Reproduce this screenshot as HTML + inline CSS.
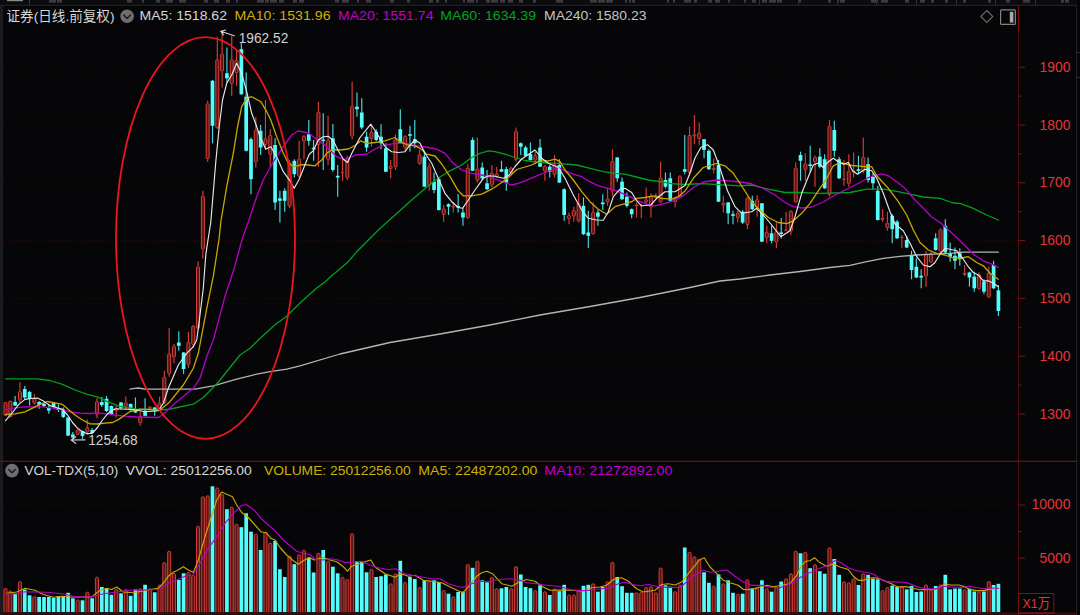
<!DOCTYPE html>
<html lang="zh-CN"><head><meta charset="utf-8"><title>证券(日线.前复权)</title>
<style>html,body{margin:0;padding:0;background:#060608;overflow:hidden}body{width:1080px;height:615px}svg{position:absolute;left:0;top:0}</style>
</head><body>
<svg width="1080" height="615" viewBox="0 0 1080 615" style="display:block;background:#060608" font-family="'Liberation Sans','Noto Sans CJK SC',sans-serif">
<rect x="0" y="0" width="1080" height="615" fill="#060608"/>
<g id="topstrip">
<rect x="0" y="0" width="1077" height="5" fill="#0c0c0f"/>
<line x1="0" y1="5.3" x2="1077" y2="5.3" stroke="#26262a" stroke-width="1"/>
<rect x="7" y="0" width="16" height="1.2" fill="#8a8a8a"/>
<line x1="29.5" y1="0" x2="29.5" y2="5" stroke="#3a3a3e" stroke-width="1"/>
<rect x="49" y="0" width="7" height="2.6" fill="#4c4c50" opacity="0.75"/>
<rect x="57" y="0" width="5" height="2.6" fill="#4c4c50" opacity="0.75"/>
<rect x="127" y="0" width="5" height="2.6" fill="#4c4c50" opacity="0.75"/>
<rect x="142" y="0" width="2" height="2.6" fill="#4c4c50" opacity="0.75"/>
<rect x="156" y="0" width="4" height="2.6" fill="#4c4c50" opacity="0.75"/>
<rect x="166" y="0" width="7" height="2.6" fill="#4c4c50" opacity="0.75"/>
<rect x="179" y="0" width="7" height="2.6" fill="#4c4c50" opacity="0.75"/>
<rect x="204" y="0" width="4" height="2.6" fill="#4c4c50" opacity="0.75"/>
<rect x="214" y="0" width="5" height="2.6" fill="#4c4c50" opacity="0.75"/>
<rect x="226" y="0" width="4" height="2.6" fill="#4c4c50" opacity="0.75"/>
<rect x="236" y="0" width="2" height="2.6" fill="#4c4c50" opacity="0.75"/>
<rect x="257" y="0" width="7" height="2.6" fill="#4c4c50" opacity="0.75"/>
<rect x="265" y="0" width="4" height="2.6" fill="#4c4c50" opacity="0.75"/>
<rect x="270" y="0" width="7" height="2.6" fill="#4c4c50" opacity="0.75"/>
<rect x="279" y="0" width="5" height="2.6" fill="#4c4c50" opacity="0.75"/>
<rect x="293" y="0" width="4" height="2.6" fill="#4c4c50" opacity="0.75"/>
<rect x="299" y="0" width="5" height="2.6" fill="#4c4c50" opacity="0.75"/>
<rect x="335" y="0" width="4" height="2.6" fill="#4c4c50" opacity="0.75"/>
<rect x="342" y="0" width="7" height="2.6" fill="#4c4c50" opacity="0.75"/>
<rect x="357" y="0" width="2" height="2.6" fill="#4c4c50" opacity="0.75"/>
<rect x="366" y="0" width="5" height="2.6" fill="#4c4c50" opacity="0.75"/>
<rect x="390" y="0" width="4" height="2.6" fill="#4c4c50" opacity="0.75"/>
<rect x="407" y="0" width="3" height="2.6" fill="#4c4c50" opacity="0.75"/>
<rect x="429" y="0" width="4" height="2.6" fill="#4c4c50" opacity="0.75"/>
<rect x="436" y="0" width="3" height="2.6" fill="#4c4c50" opacity="0.75"/>
<rect x="445" y="0" width="2" height="2.6" fill="#4c4c50" opacity="0.75"/>
<rect x="463" y="0" width="2" height="2.6" fill="#4c4c50" opacity="0.75"/>
<rect x="467" y="0" width="7" height="2.6" fill="#4c4c50" opacity="0.75"/>
<rect x="476" y="0" width="2" height="2.6" fill="#4c4c50" opacity="0.75"/>
<rect x="486" y="0" width="4" height="2.6" fill="#4c4c50" opacity="0.75"/>
<rect x="491" y="0" width="7" height="2.6" fill="#4c4c50" opacity="0.75"/>
<rect x="500" y="0" width="5" height="2.6" fill="#4c4c50" opacity="0.75"/>
<rect x="508" y="0" width="5" height="2.6" fill="#4c4c50" opacity="0.75"/>
<rect x="519" y="0" width="4" height="2.6" fill="#4c4c50" opacity="0.75"/>
<rect x="533" y="0" width="3" height="2.6" fill="#4c4c50" opacity="0.75"/>
<rect x="556" y="0" width="7" height="2.6" fill="#4c4c50" opacity="0.75"/>
<rect x="590" y="0" width="7" height="2.6" fill="#4c4c50" opacity="0.75"/>
<rect x="598" y="0" width="7" height="2.6" fill="#4c4c50" opacity="0.75"/>
<rect x="606" y="0" width="7" height="2.6" fill="#4c4c50" opacity="0.75"/>
<rect x="625" y="0" width="2" height="2.6" fill="#4c4c50" opacity="0.75"/>
<rect x="629" y="0" width="2" height="2.6" fill="#4c4c50" opacity="0.75"/>
<rect x="632" y="0" width="3" height="2.6" fill="#4c4c50" opacity="0.75"/>
<rect x="667" y="0" width="2" height="2.6" fill="#4c4c50" opacity="0.75"/>
<rect x="673" y="0" width="2" height="2.6" fill="#4c4c50" opacity="0.75"/>
<rect x="684" y="0" width="7" height="2.6" fill="#4c4c50" opacity="0.75"/>
<rect x="694" y="0" width="3" height="2.6" fill="#4c4c50" opacity="0.75"/>
<rect x="708" y="0" width="4" height="2.6" fill="#4c4c50" opacity="0.75"/>
<rect x="715" y="0" width="5" height="2.6" fill="#4c4c50" opacity="0.75"/>
<rect x="728" y="0" width="2" height="2.6" fill="#4c4c50" opacity="0.75"/>
<rect x="744" y="0" width="2" height="2.6" fill="#4c4c50" opacity="0.75"/>
<rect x="752" y="0" width="4" height="2.6" fill="#4c4c50" opacity="0.75"/>
<rect x="762" y="0" width="5" height="2.6" fill="#4c4c50" opacity="0.75"/>
<rect x="769" y="0" width="7" height="2.6" fill="#4c4c50" opacity="0.75"/>
<rect x="777" y="0" width="5" height="2.6" fill="#4c4c50" opacity="0.75"/>
<rect x="799" y="0" width="2" height="2.6" fill="#4c4c50" opacity="0.75"/>
<rect x="828" y="0" width="3" height="2.6" fill="#4c4c50" opacity="0.75"/>
<rect x="837" y="0" width="2" height="2.6" fill="#4c4c50" opacity="0.75"/>
<rect x="840" y="0" width="5" height="2.6" fill="#4c4c50" opacity="0.75"/>
<rect x="871" y="0" width="7" height="2.6" fill="#4c4c50" opacity="0.75"/>
<rect x="881" y="0" width="7" height="2.6" fill="#4c4c50" opacity="0.75"/>
<rect x="905" y="0" width="4" height="2.6" fill="#4c4c50" opacity="0.75"/>
<rect x="920" y="0" width="5" height="2.6" fill="#4c4c50" opacity="0.75"/>
<rect x="931" y="0" width="3" height="2.6" fill="#4c4c50" opacity="0.75"/>
<rect x="945" y="0" width="3" height="2.6" fill="#4c4c50" opacity="0.75"/>
<rect x="963" y="0" width="3" height="2.6" fill="#4c4c50" opacity="0.75"/>
<rect x="988" y="0" width="3" height="2.6" fill="#4c4c50" opacity="0.75"/>
<rect x="1006" y="0" width="4" height="2.6" fill="#4c4c50" opacity="0.75"/>
<rect x="1023" y="0" width="7" height="2.6" fill="#4c4c50" opacity="0.75"/>
<rect x="1061" y="0" width="3" height="2.6" fill="#4c4c50" opacity="0.75"/>
<rect x="1065" y="0" width="4" height="2.6" fill="#4c4c50" opacity="0.75"/>
<line x1="759.5" y1="0" x2="759.5" y2="5" stroke="#303034" stroke-width="1"/>
<line x1="798.5" y1="0" x2="798.5" y2="5" stroke="#303034" stroke-width="1"/>
<line x1="837.5" y1="0" x2="837.5" y2="5" stroke="#303034" stroke-width="1"/>
<line x1="876.5" y1="0" x2="876.5" y2="5" stroke="#303034" stroke-width="1"/>
<line x1="916.5" y1="0" x2="916.5" y2="5" stroke="#303034" stroke-width="1"/>
<line x1="956.5" y1="0" x2="956.5" y2="5" stroke="#303034" stroke-width="1"/>
<line x1="995.5" y1="0" x2="995.5" y2="5" stroke="#303034" stroke-width="1"/>
<line x1="1035.5" y1="0" x2="1035.5" y2="5" stroke="#303034" stroke-width="1"/>
</g>
<rect x="0" y="6" width="3.2" height="609" fill="#1b1b1f"/>
<line x1="1076.5" y1="5" x2="1076.5" y2="615" stroke="#222226" stroke-width="1"/>
<line x1="1076" y1="52.5" x2="1080" y2="52.5" stroke="#2c2c30" stroke-width="1"/>
<line x1="1076" y1="77.5" x2="1080" y2="77.5" stroke="#2c2c30" stroke-width="1"/>
<g stroke="#270707" stroke-width="1.1" stroke-dasharray="1.8 2.7">
<line x1="3" y1="67.2" x2="1018" y2="67.2"/>
<line x1="3" y1="125.0" x2="1018" y2="125.0"/>
<line x1="3" y1="182.8" x2="1018" y2="182.8"/>
<line x1="3" y1="240.6" x2="1018" y2="240.6"/>
<line x1="3" y1="298.4" x2="1018" y2="298.4"/>
<line x1="3" y1="356.2" x2="1018" y2="356.2"/>
<line x1="3" y1="414.0" x2="1018" y2="414.0"/>
<line x1="3" y1="505.0" x2="1018" y2="505.0"/>
<line x1="3" y1="558.2" x2="1018" y2="558.2"/>
</g>
<line x1="1018.5" y1="6" x2="1018.5" y2="615" stroke="#4c0c0c" stroke-width="1.1"/>
<line x1="1018.5" y1="6" x2="1018.5" y2="31" stroke="#7a1010" stroke-width="1.1"/>
<line x1="0" y1="461.3" x2="1077" y2="461.3" stroke="#8a1010" stroke-width="1.1"/>
<line x1="3" y1="613.6" x2="1077" y2="613.6" stroke="#4e0a0a" stroke-width="1.6"/>
<line x1="1018" y1="613.2" x2="1054" y2="613.2" stroke="#7e1212" stroke-width="1.2"/>
<g stroke="#7c1414" stroke-width="1">
<line x1="1018.5" y1="67.2" x2="1025" y2="67.2"/>
<line x1="1018.5" y1="125.0" x2="1025" y2="125.0"/>
<line x1="1018.5" y1="96.1" x2="1021.5" y2="96.1"/>
<line x1="1018.5" y1="182.8" x2="1025" y2="182.8"/>
<line x1="1018.5" y1="153.9" x2="1021.5" y2="153.9"/>
<line x1="1018.5" y1="240.6" x2="1025" y2="240.6"/>
<line x1="1018.5" y1="211.7" x2="1021.5" y2="211.7"/>
<line x1="1018.5" y1="298.4" x2="1025" y2="298.4"/>
<line x1="1018.5" y1="269.5" x2="1021.5" y2="269.5"/>
<line x1="1018.5" y1="356.2" x2="1025" y2="356.2"/>
<line x1="1018.5" y1="327.3" x2="1021.5" y2="327.3"/>
<line x1="1018.5" y1="414.0" x2="1025" y2="414.0"/>
<line x1="1018.5" y1="385.1" x2="1021.5" y2="385.1"/>
<line x1="1018.5" y1="505" x2="1025" y2="505"/>
<line x1="1018.5" y1="558.2" x2="1025" y2="558.2"/>
<line x1="1018.5" y1="531.6" x2="1021.5" y2="531.6"/>
</g>
<g fill="#e2363a" font-size="15">
<text x="1039.6" y="71.8" textLength="30.8" lengthAdjust="spacingAndGlyphs">1900</text>
<text x="1039.6" y="129.6" textLength="30.8" lengthAdjust="spacingAndGlyphs">1800</text>
<text x="1039.6" y="187.4" textLength="30.8" lengthAdjust="spacingAndGlyphs">1700</text>
<text x="1039.6" y="245.2" textLength="30.8" lengthAdjust="spacingAndGlyphs">1600</text>
<text x="1039.6" y="303.0" textLength="30.8" lengthAdjust="spacingAndGlyphs">1500</text>
<text x="1039.6" y="360.8" textLength="30.8" lengthAdjust="spacingAndGlyphs">1400</text>
<text x="1039.6" y="418.6" textLength="30.8" lengthAdjust="spacingAndGlyphs">1300</text>
<text x="1031.6" y="509" textLength="38.8" lengthAdjust="spacingAndGlyphs">10000</text>
<text x="1039.6" y="562.5" textLength="30.8" lengthAdjust="spacingAndGlyphs">5000</text>
</g>
<rect x="1018.5" y="593.5" width="35.3" height="19.5" fill="none" stroke="#7e1212" stroke-width="1"/>
<text x="1022.5" y="608.3" font-size="13.5" fill="#e2363a" textLength="27.5" lengthAdjust="spacingAndGlyphs">X1万</text>
<clipPath id="vc"><rect x="0" y="462" width="1018" height="150.2"/></clipPath>
<filter id="soft" x="-2%" y="-2%" width="104%" height="104%"><feGaussianBlur stdDeviation="0.35"/></filter>
<g filter="url(#soft)"><g id="vol" clip-path="url(#vc)">
<rect x="3.95" y="588.2" width="3.1" height="28.5" rx="1.4" fill="#5a1917" stroke="#e2423a" stroke-width="0.9"/>
<rect x="8.76" y="590.8" width="3.1" height="26.0" rx="1.4" fill="#5a1917" stroke="#e2423a" stroke-width="0.9"/>
<rect x="13.28" y="593.7" width="3.7" height="18.6" fill="#54fcfc"/>
<rect x="18.39" y="581.7" width="3.1" height="35.1" rx="1.4" fill="#5a1917" stroke="#e2423a" stroke-width="0.9"/>
<rect x="22.90" y="589.5" width="3.7" height="22.8" fill="#54fcfc"/>
<rect x="27.72" y="595.3" width="3.7" height="17.0" fill="#54fcfc"/>
<rect x="32.83" y="596.7" width="3.1" height="20.1" rx="1.4" fill="#5a1917" stroke="#e2423a" stroke-width="0.9"/>
<rect x="37.34" y="597.0" width="3.7" height="15.3" fill="#54fcfc"/>
<rect x="42.16" y="597.0" width="3.7" height="15.3" fill="#54fcfc"/>
<rect x="46.97" y="597.0" width="3.7" height="15.3" fill="#54fcfc"/>
<rect x="51.78" y="597.8" width="3.7" height="14.5" fill="#54fcfc"/>
<rect x="56.59" y="596.2" width="3.7" height="16.1" fill="#54fcfc"/>
<rect x="61.41" y="597.0" width="3.7" height="15.3" fill="#54fcfc"/>
<rect x="66.22" y="592.8" width="3.7" height="19.5" fill="#54fcfc"/>
<rect x="71.03" y="598.3" width="3.7" height="14.0" fill="#54fcfc"/>
<rect x="76.15" y="600.0" width="3.1" height="16.8" rx="1.4" fill="#5a1917" stroke="#e2423a" stroke-width="0.9"/>
<rect x="80.66" y="600.3" width="3.7" height="12.0" fill="#54fcfc"/>
<rect x="85.77" y="592.2" width="3.1" height="24.6" rx="1.4" fill="#5a1917" stroke="#e2423a" stroke-width="0.9"/>
<rect x="90.29" y="598.3" width="3.7" height="14.0" fill="#54fcfc"/>
<rect x="95.40" y="577.2" width="3.1" height="39.6" rx="1.4" fill="#5a1917" stroke="#e2423a" stroke-width="0.9"/>
<rect x="99.91" y="587.0" width="3.7" height="25.3" fill="#54fcfc"/>
<rect x="104.73" y="589.0" width="3.7" height="23.3" fill="#54fcfc"/>
<rect x="109.54" y="594.8" width="3.7" height="17.5" fill="#54fcfc"/>
<rect x="114.66" y="589.5" width="3.1" height="27.3" rx="1.4" fill="#5a1917" stroke="#e2423a" stroke-width="0.9"/>
<rect x="119.17" y="593.3" width="3.7" height="19.0" fill="#54fcfc"/>
<rect x="124.28" y="589.5" width="3.1" height="27.3" rx="1.4" fill="#5a1917" stroke="#e2423a" stroke-width="0.9"/>
<rect x="128.80" y="595.8" width="3.7" height="16.5" fill="#54fcfc"/>
<rect x="133.61" y="589.5" width="3.7" height="22.8" fill="#54fcfc"/>
<rect x="138.72" y="588.7" width="3.1" height="28.1" rx="1.4" fill="#5a1917" stroke="#e2423a" stroke-width="0.9"/>
<rect x="143.24" y="584.8" width="3.7" height="27.5" fill="#54fcfc"/>
<rect x="148.35" y="588.8" width="3.1" height="28.0" rx="1.4" fill="#5a1917" stroke="#e2423a" stroke-width="0.9"/>
<rect x="152.87" y="592.3" width="3.7" height="20.0" fill="#54fcfc"/>
<rect x="157.98" y="585.0" width="3.1" height="31.8" rx="1.4" fill="#5a1917" stroke="#e2423a" stroke-width="0.9"/>
<rect x="162.79" y="562.5" width="3.1" height="54.3" rx="1.4" fill="#5a1917" stroke="#e2423a" stroke-width="0.9"/>
<rect x="167.61" y="551.2" width="3.1" height="65.6" rx="1.4" fill="#5a1917" stroke="#e2423a" stroke-width="0.9"/>
<rect x="172.42" y="573.5" width="3.1" height="43.3" rx="1.4" fill="#5a1917" stroke="#e2423a" stroke-width="0.9"/>
<rect x="176.94" y="580.0" width="3.7" height="32.3" fill="#54fcfc"/>
<rect x="181.75" y="573.3" width="3.7" height="39.0" fill="#54fcfc"/>
<rect x="186.86" y="572.5" width="3.1" height="44.3" rx="1.4" fill="#5a1917" stroke="#e2423a" stroke-width="0.9"/>
<rect x="191.68" y="575.5" width="3.1" height="41.3" rx="1.4" fill="#5a1917" stroke="#e2423a" stroke-width="0.9"/>
<rect x="196.49" y="526.2" width="3.1" height="90.5" rx="1.4" fill="#5a1917" stroke="#e2423a" stroke-width="0.9"/>
<rect x="201.31" y="496.8" width="3.1" height="120.0" rx="1.4" fill="#5a1917" stroke="#e2423a" stroke-width="0.9"/>
<rect x="206.12" y="495.8" width="3.1" height="121.0" rx="1.4" fill="#5a1917" stroke="#e2423a" stroke-width="0.9"/>
<rect x="210.64" y="486.3" width="3.7" height="126.0" fill="#54fcfc"/>
<rect x="215.75" y="487.9" width="3.1" height="128.8" rx="1.4" fill="#5a1917" stroke="#e2423a" stroke-width="0.9"/>
<rect x="220.56" y="494.6" width="3.1" height="122.1" rx="1.4" fill="#5a1917" stroke="#e2423a" stroke-width="0.9"/>
<rect x="225.08" y="509.2" width="3.7" height="103.1" fill="#54fcfc"/>
<rect x="230.19" y="507.1" width="3.1" height="109.6" rx="1.4" fill="#5a1917" stroke="#e2423a" stroke-width="0.9"/>
<rect x="235.01" y="524.2" width="3.1" height="92.6" rx="1.4" fill="#5a1917" stroke="#e2423a" stroke-width="0.9"/>
<rect x="239.52" y="527.2" width="3.7" height="85.1" fill="#54fcfc"/>
<rect x="244.34" y="513.3" width="3.7" height="99.0" fill="#54fcfc"/>
<rect x="249.15" y="531.7" width="3.7" height="80.6" fill="#54fcfc"/>
<rect x="254.27" y="534.2" width="3.1" height="82.6" rx="1.4" fill="#5a1917" stroke="#e2423a" stroke-width="0.9"/>
<rect x="258.78" y="550.0" width="3.7" height="62.3" fill="#54fcfc"/>
<rect x="263.90" y="532.2" width="3.1" height="84.6" rx="1.4" fill="#5a1917" stroke="#e2423a" stroke-width="0.9"/>
<rect x="268.72" y="543.0" width="3.1" height="73.8" rx="1.4" fill="#5a1917" stroke="#e2423a" stroke-width="0.9"/>
<rect x="273.23" y="540.8" width="3.7" height="71.5" fill="#54fcfc"/>
<rect x="278.05" y="569.2" width="3.7" height="43.1" fill="#54fcfc"/>
<rect x="282.86" y="577.0" width="3.7" height="35.3" fill="#54fcfc"/>
<rect x="287.98" y="556.2" width="3.1" height="60.5" rx="1.4" fill="#5a1917" stroke="#e2423a" stroke-width="0.9"/>
<rect x="292.49" y="564.2" width="3.7" height="48.1" fill="#54fcfc"/>
<rect x="297.61" y="554.7" width="3.1" height="62.1" rx="1.4" fill="#5a1917" stroke="#e2423a" stroke-width="0.9"/>
<rect x="302.43" y="550.2" width="3.1" height="66.6" rx="1.4" fill="#5a1917" stroke="#e2423a" stroke-width="0.9"/>
<rect x="306.94" y="557.5" width="3.7" height="54.8" fill="#54fcfc"/>
<rect x="311.76" y="572.5" width="3.7" height="39.8" fill="#54fcfc"/>
<rect x="316.87" y="553.2" width="3.1" height="63.5" rx="1.4" fill="#5a1917" stroke="#e2423a" stroke-width="0.9"/>
<rect x="321.39" y="550.0" width="3.7" height="62.3" fill="#54fcfc"/>
<rect x="326.51" y="561.2" width="3.1" height="55.5" rx="1.4" fill="#5a1917" stroke="#e2423a" stroke-width="0.9"/>
<rect x="331.02" y="566.7" width="3.7" height="45.6" fill="#54fcfc"/>
<rect x="335.84" y="573.3" width="3.7" height="39.0" fill="#54fcfc"/>
<rect x="340.96" y="577.2" width="3.1" height="39.6" rx="1.4" fill="#5a1917" stroke="#e2423a" stroke-width="0.9"/>
<rect x="345.77" y="579.5" width="3.1" height="37.3" rx="1.4" fill="#5a1917" stroke="#e2423a" stroke-width="0.9"/>
<rect x="350.59" y="533.8" width="3.1" height="83.0" rx="1.4" fill="#5a1917" stroke="#e2423a" stroke-width="0.9"/>
<rect x="355.11" y="561.2" width="3.7" height="51.1" fill="#54fcfc"/>
<rect x="359.92" y="562.0" width="3.7" height="50.3" fill="#54fcfc"/>
<rect x="364.74" y="572.3" width="3.7" height="40.0" fill="#54fcfc"/>
<rect x="369.86" y="569.2" width="3.1" height="47.6" rx="1.4" fill="#5a1917" stroke="#e2423a" stroke-width="0.9"/>
<rect x="374.37" y="577.0" width="3.7" height="35.3" fill="#54fcfc"/>
<rect x="379.19" y="576.2" width="3.7" height="36.1" fill="#54fcfc"/>
<rect x="384.01" y="574.5" width="3.7" height="37.8" fill="#54fcfc"/>
<rect x="389.13" y="583.8" width="3.1" height="33.0" rx="1.4" fill="#5a1917" stroke="#e2423a" stroke-width="0.9"/>
<rect x="393.95" y="573.8" width="3.1" height="43.0" rx="1.4" fill="#5a1917" stroke="#e2423a" stroke-width="0.9"/>
<rect x="398.46" y="560.8" width="3.7" height="51.5" fill="#54fcfc"/>
<rect x="403.58" y="582.5" width="3.1" height="34.3" rx="1.4" fill="#5a1917" stroke="#e2423a" stroke-width="0.9"/>
<rect x="408.10" y="577.0" width="3.7" height="35.3" fill="#54fcfc"/>
<rect x="412.92" y="579.0" width="3.7" height="33.3" fill="#54fcfc"/>
<rect x="418.04" y="587.5" width="3.1" height="29.3" rx="1.4" fill="#5a1917" stroke="#e2423a" stroke-width="0.9"/>
<rect x="422.55" y="580.3" width="3.7" height="32.0" fill="#54fcfc"/>
<rect x="427.67" y="581.2" width="3.1" height="35.6" rx="1.4" fill="#5a1917" stroke="#e2423a" stroke-width="0.9"/>
<rect x="432.19" y="580.3" width="3.7" height="32.0" fill="#54fcfc"/>
<rect x="437.01" y="582.0" width="3.7" height="30.3" fill="#54fcfc"/>
<rect x="442.13" y="590.5" width="3.1" height="26.3" rx="1.4" fill="#5a1917" stroke="#e2423a" stroke-width="0.9"/>
<rect x="446.65" y="593.7" width="3.7" height="18.6" fill="#54fcfc"/>
<rect x="451.77" y="596.7" width="3.1" height="20.1" rx="1.4" fill="#5a1917" stroke="#e2423a" stroke-width="0.9"/>
<rect x="456.28" y="592.0" width="3.7" height="20.3" fill="#54fcfc"/>
<rect x="461.10" y="591.7" width="3.7" height="20.6" fill="#54fcfc"/>
<rect x="466.22" y="564.5" width="3.1" height="52.3" rx="1.4" fill="#5a1917" stroke="#e2423a" stroke-width="0.9"/>
<rect x="470.74" y="567.8" width="3.7" height="44.5" fill="#54fcfc"/>
<rect x="475.86" y="561.2" width="3.1" height="55.6" rx="1.4" fill="#5a1917" stroke="#e2423a" stroke-width="0.9"/>
<rect x="480.38" y="580.3" width="3.7" height="32.0" fill="#54fcfc"/>
<rect x="485.20" y="582.3" width="3.7" height="30.0" fill="#54fcfc"/>
<rect x="490.32" y="577.5" width="3.1" height="39.3" rx="1.4" fill="#5a1917" stroke="#e2423a" stroke-width="0.9"/>
<rect x="495.14" y="588.7" width="3.1" height="28.1" rx="1.4" fill="#5a1917" stroke="#e2423a" stroke-width="0.9"/>
<rect x="499.66" y="588.3" width="3.7" height="24.0" fill="#54fcfc"/>
<rect x="504.48" y="587.0" width="3.7" height="25.3" fill="#54fcfc"/>
<rect x="509.60" y="588.7" width="3.1" height="28.1" rx="1.4" fill="#5a1917" stroke="#e2423a" stroke-width="0.9"/>
<rect x="514.42" y="566.7" width="3.1" height="50.1" rx="1.4" fill="#5a1917" stroke="#e2423a" stroke-width="0.9"/>
<rect x="518.94" y="574.5" width="3.7" height="37.8" fill="#54fcfc"/>
<rect x="523.76" y="587.0" width="3.7" height="25.3" fill="#54fcfc"/>
<rect x="528.58" y="588.2" width="3.7" height="24.1" fill="#54fcfc"/>
<rect x="533.70" y="590.5" width="3.1" height="26.3" rx="1.4" fill="#5a1917" stroke="#e2423a" stroke-width="0.9"/>
<rect x="538.22" y="585.3" width="3.7" height="27.0" fill="#54fcfc"/>
<rect x="543.34" y="591.7" width="3.1" height="25.1" rx="1.4" fill="#5a1917" stroke="#e2423a" stroke-width="0.9"/>
<rect x="547.87" y="595.0" width="3.7" height="17.3" fill="#54fcfc"/>
<rect x="552.99" y="588.8" width="3.1" height="28.0" rx="1.4" fill="#5a1917" stroke="#e2423a" stroke-width="0.9"/>
<rect x="557.51" y="591.2" width="3.7" height="21.1" fill="#54fcfc"/>
<rect x="562.33" y="584.8" width="3.7" height="27.5" fill="#54fcfc"/>
<rect x="567.45" y="595.0" width="3.1" height="21.8" rx="1.4" fill="#5a1917" stroke="#e2423a" stroke-width="0.9"/>
<rect x="572.27" y="595.0" width="3.1" height="21.8" rx="1.4" fill="#5a1917" stroke="#e2423a" stroke-width="0.9"/>
<rect x="577.09" y="590.0" width="3.1" height="26.8" rx="1.4" fill="#5a1917" stroke="#e2423a" stroke-width="0.9"/>
<rect x="581.62" y="585.8" width="3.7" height="26.5" fill="#54fcfc"/>
<rect x="586.44" y="584.8" width="3.7" height="27.5" fill="#54fcfc"/>
<rect x="591.56" y="583.8" width="3.1" height="33.0" rx="1.4" fill="#5a1917" stroke="#e2423a" stroke-width="0.9"/>
<rect x="596.08" y="591.7" width="3.7" height="20.6" fill="#54fcfc"/>
<rect x="600.90" y="587.0" width="3.7" height="25.3" fill="#54fcfc"/>
<rect x="606.03" y="581.7" width="3.1" height="35.1" rx="1.4" fill="#5a1917" stroke="#e2423a" stroke-width="0.9"/>
<rect x="610.85" y="562.2" width="3.1" height="54.6" rx="1.4" fill="#5a1917" stroke="#e2423a" stroke-width="0.9"/>
<rect x="615.37" y="577.0" width="3.7" height="35.3" fill="#54fcfc"/>
<rect x="620.19" y="586.2" width="3.7" height="26.1" fill="#54fcfc"/>
<rect x="625.01" y="592.8" width="3.7" height="19.5" fill="#54fcfc"/>
<rect x="629.84" y="592.8" width="3.7" height="19.5" fill="#54fcfc"/>
<rect x="634.96" y="592.8" width="3.1" height="24.0" rx="1.4" fill="#5a1917" stroke="#e2423a" stroke-width="0.9"/>
<rect x="639.78" y="592.5" width="3.1" height="24.3" rx="1.4" fill="#5a1917" stroke="#e2423a" stroke-width="0.9"/>
<rect x="644.61" y="587.5" width="3.1" height="29.3" rx="1.4" fill="#5a1917" stroke="#e2423a" stroke-width="0.9"/>
<rect x="649.43" y="586.7" width="3.1" height="30.1" rx="1.4" fill="#5a1917" stroke="#e2423a" stroke-width="0.9"/>
<rect x="654.25" y="592.8" width="3.1" height="24.0" rx="1.4" fill="#5a1917" stroke="#e2423a" stroke-width="0.9"/>
<rect x="659.08" y="568.0" width="3.1" height="48.8" rx="1.4" fill="#5a1917" stroke="#e2423a" stroke-width="0.9"/>
<rect x="663.60" y="585.3" width="3.7" height="27.0" fill="#54fcfc"/>
<rect x="668.42" y="586.7" width="3.7" height="25.6" fill="#54fcfc"/>
<rect x="673.55" y="591.7" width="3.1" height="25.1" rx="1.4" fill="#5a1917" stroke="#e2423a" stroke-width="0.9"/>
<rect x="678.37" y="585.0" width="3.1" height="31.8" rx="1.4" fill="#5a1917" stroke="#e2423a" stroke-width="0.9"/>
<rect x="682.89" y="547.5" width="3.7" height="64.8" fill="#54fcfc"/>
<rect x="688.02" y="552.2" width="3.1" height="64.6" rx="1.4" fill="#5a1917" stroke="#e2423a" stroke-width="0.9"/>
<rect x="692.84" y="556.7" width="3.1" height="60.1" rx="1.4" fill="#5a1917" stroke="#e2423a" stroke-width="0.9"/>
<rect x="697.67" y="559.2" width="3.1" height="57.6" rx="1.4" fill="#5a1917" stroke="#e2423a" stroke-width="0.9"/>
<rect x="702.19" y="572.3" width="3.7" height="40.0" fill="#54fcfc"/>
<rect x="707.01" y="582.8" width="3.7" height="29.5" fill="#54fcfc"/>
<rect x="712.14" y="586.2" width="3.1" height="30.6" rx="1.4" fill="#5a1917" stroke="#e2423a" stroke-width="0.9"/>
<rect x="716.66" y="574.5" width="3.7" height="37.8" fill="#54fcfc"/>
<rect x="721.79" y="583.8" width="3.1" height="33.0" rx="1.4" fill="#5a1917" stroke="#e2423a" stroke-width="0.9"/>
<rect x="726.31" y="580.3" width="3.7" height="32.0" fill="#54fcfc"/>
<rect x="731.14" y="592.8" width="3.7" height="19.5" fill="#54fcfc"/>
<rect x="736.26" y="594.2" width="3.1" height="22.6" rx="1.4" fill="#5a1917" stroke="#e2423a" stroke-width="0.9"/>
<rect x="740.78" y="593.7" width="3.7" height="18.6" fill="#54fcfc"/>
<rect x="745.91" y="579.7" width="3.1" height="37.1" rx="1.4" fill="#5a1917" stroke="#e2423a" stroke-width="0.9"/>
<rect x="750.43" y="588.3" width="3.7" height="24.0" fill="#54fcfc"/>
<rect x="755.56" y="587.5" width="3.1" height="29.3" rx="1.4" fill="#5a1917" stroke="#e2423a" stroke-width="0.9"/>
<rect x="760.08" y="580.3" width="3.7" height="32.0" fill="#54fcfc"/>
<rect x="765.21" y="588.8" width="3.1" height="28.0" rx="1.4" fill="#5a1917" stroke="#e2423a" stroke-width="0.9"/>
<rect x="769.73" y="591.7" width="3.7" height="20.6" fill="#54fcfc"/>
<rect x="774.86" y="587.5" width="3.1" height="29.3" rx="1.4" fill="#5a1917" stroke="#e2423a" stroke-width="0.9"/>
<rect x="779.38" y="581.5" width="3.7" height="30.8" fill="#54fcfc"/>
<rect x="784.51" y="578.7" width="3.1" height="38.1" rx="1.4" fill="#5a1917" stroke="#e2423a" stroke-width="0.9"/>
<rect x="789.34" y="573.8" width="3.1" height="43.0" rx="1.4" fill="#5a1917" stroke="#e2423a" stroke-width="0.9"/>
<rect x="794.16" y="551.2" width="3.1" height="65.6" rx="1.4" fill="#5a1917" stroke="#e2423a" stroke-width="0.9"/>
<rect x="798.69" y="553.3" width="3.7" height="59.0" fill="#54fcfc"/>
<rect x="803.81" y="552.2" width="3.1" height="64.6" rx="1.4" fill="#5a1917" stroke="#e2423a" stroke-width="0.9"/>
<rect x="808.34" y="568.2" width="3.7" height="44.1" fill="#54fcfc"/>
<rect x="813.46" y="564.7" width="3.1" height="52.1" rx="1.4" fill="#5a1917" stroke="#e2423a" stroke-width="0.9"/>
<rect x="817.99" y="571.2" width="3.7" height="41.1" fill="#54fcfc"/>
<rect x="822.82" y="573.7" width="3.7" height="38.6" fill="#54fcfc"/>
<rect x="827.94" y="547.8" width="3.1" height="69.0" rx="1.4" fill="#5a1917" stroke="#e2423a" stroke-width="0.9"/>
<rect x="832.47" y="559.0" width="3.7" height="53.3" fill="#54fcfc"/>
<rect x="837.29" y="574.8" width="3.7" height="37.5" fill="#54fcfc"/>
<rect x="842.42" y="581.7" width="3.1" height="35.1" rx="1.4" fill="#5a1917" stroke="#e2423a" stroke-width="0.9"/>
<rect x="847.25" y="582.8" width="3.1" height="34.0" rx="1.4" fill="#5a1917" stroke="#e2423a" stroke-width="0.9"/>
<rect x="852.07" y="578.7" width="3.1" height="38.1" rx="1.4" fill="#5a1917" stroke="#e2423a" stroke-width="0.9"/>
<rect x="856.60" y="585.0" width="3.7" height="27.3" fill="#54fcfc"/>
<rect x="861.72" y="573.7" width="3.1" height="43.1" rx="1.4" fill="#5a1917" stroke="#e2423a" stroke-width="0.9"/>
<rect x="866.25" y="574.8" width="3.7" height="37.5" fill="#54fcfc"/>
<rect x="871.08" y="578.7" width="3.7" height="33.6" fill="#54fcfc"/>
<rect x="875.90" y="579.4" width="3.7" height="32.9" fill="#54fcfc"/>
<rect x="881.03" y="590.5" width="3.1" height="26.3" rx="1.4" fill="#5a1917" stroke="#e2423a" stroke-width="0.9"/>
<rect x="885.86" y="587.5" width="3.1" height="29.3" rx="1.4" fill="#5a1917" stroke="#e2423a" stroke-width="0.9"/>
<rect x="890.38" y="585.6" width="3.7" height="26.7" fill="#54fcfc"/>
<rect x="895.21" y="587.0" width="3.7" height="25.3" fill="#54fcfc"/>
<rect x="900.33" y="586.5" width="3.1" height="30.3" rx="1.4" fill="#5a1917" stroke="#e2423a" stroke-width="0.9"/>
<rect x="904.86" y="589.4" width="3.7" height="22.9" fill="#54fcfc"/>
<rect x="909.69" y="586.0" width="3.7" height="26.3" fill="#54fcfc"/>
<rect x="914.51" y="592.0" width="3.7" height="20.3" fill="#54fcfc"/>
<rect x="919.34" y="591.5" width="3.7" height="20.8" fill="#54fcfc"/>
<rect x="924.47" y="584.9" width="3.1" height="31.9" rx="1.4" fill="#5a1917" stroke="#e2423a" stroke-width="0.9"/>
<rect x="929.29" y="590.5" width="3.1" height="26.3" rx="1.4" fill="#5a1917" stroke="#e2423a" stroke-width="0.9"/>
<rect x="933.82" y="586.0" width="3.7" height="26.3" fill="#54fcfc"/>
<rect x="938.95" y="584.9" width="3.1" height="31.9" rx="1.4" fill="#5a1917" stroke="#e2423a" stroke-width="0.9"/>
<rect x="943.47" y="574.8" width="3.7" height="37.5" fill="#54fcfc"/>
<rect x="948.30" y="589.4" width="3.7" height="22.9" fill="#54fcfc"/>
<rect x="953.13" y="588.5" width="3.7" height="23.8" fill="#54fcfc"/>
<rect x="957.96" y="588.5" width="3.7" height="23.8" fill="#54fcfc"/>
<rect x="963.08" y="589.9" width="3.1" height="26.9" rx="1.4" fill="#5a1917" stroke="#e2423a" stroke-width="0.9"/>
<rect x="967.61" y="588.8" width="3.7" height="23.5" fill="#54fcfc"/>
<rect x="972.44" y="591.5" width="3.7" height="20.8" fill="#54fcfc"/>
<rect x="977.56" y="592.0" width="3.1" height="24.8" rx="1.4" fill="#5a1917" stroke="#e2423a" stroke-width="0.9"/>
<rect x="982.09" y="591.5" width="3.7" height="20.8" fill="#54fcfc"/>
<rect x="987.22" y="581.5" width="3.1" height="35.3" rx="1.4" fill="#5a1917" stroke="#e2423a" stroke-width="0.9"/>
<rect x="991.74" y="585.0" width="3.7" height="27.3" fill="#54fcfc"/>
<rect x="996.57" y="583.8" width="3.7" height="28.5" fill="#54fcfc"/>
</g></g>
<polyline points="6.7,593.3 16.7,592.0 25.0,588.3 35.0,590.3 43.3,594.5 53.3,597.3 61.7,596.2 70.0,597.0 80.0,597.0 91.7,597.0 100.0,590.3 106.7,588.3 111.7,589.5 116.7,587.0 123.3,592.0 133.3,592.8 141.7,591.2 150.0,589.5 158.3,588.3 164.2,582.0 168.3,576.2 173.3,572.3 176.7,570.8 183.3,566.7 188.3,570.0 193.3,572.5 198.3,560.0 205.0,536.7 211.7,515.8 216.7,500.0 221.7,492.0 226.7,494.2 232.5,496.7 236.7,505.0 241.7,512.5 248.3,517.5 255.0,525.0 260.8,531.7 266.7,533.0 270.8,538.3 275.0,540.0 280.0,547.5 286.7,555.0 293.3,560.8 298.3,564.2 303.3,560.8 309.2,557.5 314.2,560.0 323.3,557.5 330.0,560.0 336.7,561.7 343.3,566.7 347.5,571.2 351.7,566.2 361.7,562.8 370.8,560.0 375.0,567.0 385.0,573.7 395.0,577.3 400.8,573.7 408.3,576.2 415.0,575.3 423.3,580.3 431.7,581.2 441.7,582.8 451.7,587.8 462.5,592.8 468.3,587.0 476.7,576.2 481.7,572.8 486.7,571.2 492.5,573.7 501.7,583.7 511.7,586.2 520.0,581.5 526.7,579.5 535.0,581.2 541.7,586.2 550.0,590.3 561.7,590.0 571.7,590.3 583.3,591.2 591.7,587.8 600.0,587.0 606.7,585.3 613.3,579.5 621.7,577.8 628.3,581.2 636.7,588.7 643.3,592.0 655.0,590.3 661.7,584.5 668.3,583.7 675.0,585.0 681.7,582.0 688.3,573.7 695.0,565.3 699.2,560.3 704.2,557.8 710.0,567.0 716.7,573.7 723.3,580.3 730.0,582.8 738.3,585.3 743.3,589.5 751.7,589.5 760.0,587.0 766.7,585.3 773.3,586.7 781.7,585.3 790.0,583.7 796.7,575.3 801.7,565.3 805.8,561.2 810.0,560.7 814.7,557.8 820.0,562.8 826.7,566.2 833.3,564.0 840.0,567.0 848.3,569.5 853.3,576.2 858.3,580.3 863.3,580.3 870.0,578.0 875.0,577.8 882.5,580.0 890.0,583.1 897.5,586.9 907.5,586.9 913.8,588.5 920.0,589.8 927.5,589.4 935.0,589.8 940.0,586.9 945.0,583.8 950.0,585.0 958.8,585.0 965.0,586.9 970.0,589.4 976.2,590.6 983.8,590.6 988.8,589.4 995.0,589.0 998.5,588.1" fill="none" stroke="#c8a800" stroke-width="1.15" stroke-linejoin="round" stroke-linecap="round" />
<polyline points="5.5,593.7 16.7,593.7 25.0,591.7 38.3,592.0 50.0,592.5 63.3,594.0 73.3,596.2 83.3,597.3 93.3,596.2 103.3,593.7 116.7,592.0 130.0,590.3 143.3,590.0 158.3,589.5 164.2,586.2 170.0,582.0 176.7,580.0 185.0,576.3 193.3,574.7 200.0,563.3 208.3,548.3 216.7,536.7 225.0,523.3 233.3,513.3 241.7,505.3 246.7,504.7 255.0,510.8 260.8,518.3 268.3,525.0 275.0,530.8 283.3,540.0 290.0,545.8 296.7,551.3 303.3,553.3 310.0,554.7 315.0,559.2 323.3,560.0 330.0,558.7 338.3,560.0 345.0,562.6 353.3,562.0 361.7,561.2 370.0,565.3 378.3,567.8 388.3,569.5 395.8,568.7 401.7,572.8 411.7,575.3 421.7,577.0 431.7,578.7 440.0,578.7 448.3,583.7 458.3,586.7 463.3,587.3 471.7,583.7 480.0,581.2 488.3,581.7 498.3,579.5 510.0,578.7 518.3,579.5 526.7,582.8 536.7,583.7 546.7,585.3 558.3,586.2 570.0,589.5 580.0,590.7 590.0,590.3 600.0,589.0 610.0,587.8 618.3,583.7 625.0,582.3 633.3,584.5 640.0,585.7 648.3,584.5 656.7,586.2 665.0,587.3 680.0,587.3 686.7,582.0 693.3,576.2 698.0,573.0 703.3,570.3 710.0,572.3 718.3,571.2 726.7,570.0 735.0,576.2 743.3,582.0 751.7,585.3 761.7,585.3 770.0,587.3 780.0,587.8 790.0,584.0 798.3,578.7 805.0,574.5 811.7,572.0 818.3,568.7 826.7,565.7 835.0,560.7 840.0,562.0 848.3,567.8 855.0,570.3 863.3,572.0 870.0,573.0 875.0,575.0 880.0,578.8 887.5,581.9 895.0,581.9 906.2,582.5 911.2,584.4 917.5,586.9 925.0,588.8 936.2,588.8 942.5,586.2 950.0,586.9 962.5,587.5 968.8,586.0 976.2,587.5 983.8,588.8 988.8,587.8 998.5,588.5" fill="none" stroke="#b800c8" stroke-width="1.15" stroke-linejoin="round" stroke-linecap="round" />
<g id="candles" filter="url(#soft)">
<rect x="4.00" y="402.5" width="3.0" height="13.0" rx="0.9" fill="#5a1917" stroke="#e2423a" stroke-width="0.95"/>
<rect x="8.81" y="401.1" width="3.0" height="15.9" rx="0.9" fill="#5a1917" stroke="#e2423a" stroke-width="0.95"/>
<line x1="15.13" y1="396.0" x2="15.13" y2="406.0" stroke="#48dce0" stroke-width="1.15"/>
<rect x="13.28" y="402.0" width="3.7" height="3.6" fill="#54fcfc"/>
<line x1="19.94" y1="382.0" x2="19.94" y2="391.0" stroke="#d63d35" stroke-width="1.15"/>
<line x1="19.94" y1="400.6" x2="19.94" y2="403.0" stroke="#d63d35" stroke-width="1.15"/>
<rect x="18.44" y="391.5" width="3.0" height="8.6" rx="0.9" fill="#5a1917" stroke="#e2423a" stroke-width="0.95"/>
<line x1="24.75" y1="386.0" x2="24.75" y2="399.4" stroke="#48dce0" stroke-width="1.15"/>
<rect x="22.90" y="389.0" width="3.7" height="8.5" fill="#54fcfc"/>
<line x1="29.57" y1="391.0" x2="29.57" y2="405.6" stroke="#48dce0" stroke-width="1.15"/>
<rect x="27.72" y="392.0" width="3.7" height="7.0" fill="#54fcfc"/>
<line x1="34.38" y1="394.0" x2="34.38" y2="397.5" stroke="#d63d35" stroke-width="1.15"/>
<line x1="34.38" y1="403.8" x2="34.38" y2="404.5" stroke="#d63d35" stroke-width="1.15"/>
<rect x="32.88" y="398.0" width="3.0" height="5.3" rx="0.9" fill="#5a1917" stroke="#e2423a" stroke-width="0.95"/>
<line x1="39.19" y1="401.0" x2="39.19" y2="408.8" stroke="#48dce0" stroke-width="1.15"/>
<rect x="37.34" y="402.0" width="3.7" height="3.0" fill="#54fcfc"/>
<line x1="44.01" y1="403.0" x2="44.01" y2="407.0" stroke="#48dce0" stroke-width="1.15"/>
<rect x="42.16" y="403.8" width="3.7" height="2.2" fill="#54fcfc"/>
<line x1="48.82" y1="403.8" x2="48.82" y2="413.8" stroke="#48dce0" stroke-width="1.15"/>
<rect x="46.97" y="408.0" width="3.7" height="2.6" fill="#54fcfc"/>
<line x1="53.63" y1="402.0" x2="53.63" y2="407.5" stroke="#48dce0" stroke-width="1.15"/>
<rect x="51.78" y="403.0" width="3.7" height="4.0" fill="#54fcfc"/>
<line x1="58.44" y1="404.4" x2="58.44" y2="412.0" stroke="#48dce0" stroke-width="1.15"/>
<rect x="56.59" y="408.0" width="3.7" height="2.0" fill="#54fcfc"/>
<line x1="63.26" y1="407.5" x2="63.26" y2="418.0" stroke="#48dce0" stroke-width="1.15"/>
<rect x="61.41" y="409.4" width="3.7" height="7.6" fill="#54fcfc"/>
<line x1="68.07" y1="417.0" x2="68.07" y2="436.0" stroke="#48dce0" stroke-width="1.15"/>
<rect x="66.22" y="417.5" width="3.7" height="18.1" fill="#54fcfc"/>
<line x1="72.88" y1="432.0" x2="72.88" y2="438.8" stroke="#48dce0" stroke-width="1.15"/>
<rect x="71.03" y="434.4" width="3.7" height="3.1" fill="#54fcfc"/>
<rect x="76.20" y="429.9" width="3.0" height="4.6" rx="0.9" fill="#5a1917" stroke="#e2423a" stroke-width="0.95"/>
<line x1="82.51" y1="430.5" x2="82.51" y2="438.8" stroke="#48dce0" stroke-width="1.15"/>
<rect x="80.66" y="431.0" width="3.7" height="5.0" fill="#54fcfc"/>
<line x1="87.32" y1="419.4" x2="87.32" y2="427.0" stroke="#d63d35" stroke-width="1.15"/>
<line x1="87.32" y1="432.5" x2="87.32" y2="435.0" stroke="#d63d35" stroke-width="1.15"/>
<rect x="85.82" y="427.5" width="3.0" height="4.5" rx="0.9" fill="#5a1917" stroke="#e2423a" stroke-width="0.95"/>
<line x1="92.14" y1="428.0" x2="92.14" y2="434.0" stroke="#48dce0" stroke-width="1.15"/>
<rect x="90.29" y="430.0" width="3.7" height="3.0" fill="#54fcfc"/>
<line x1="96.95" y1="398.0" x2="96.95" y2="401.0" stroke="#d63d35" stroke-width="1.15"/>
<line x1="96.95" y1="415.0" x2="96.95" y2="418.0" stroke="#d63d35" stroke-width="1.15"/>
<rect x="95.45" y="401.5" width="3.0" height="13.0" rx="0.9" fill="#5a1917" stroke="#e2423a" stroke-width="0.95"/>
<line x1="101.76" y1="397.0" x2="101.76" y2="407.0" stroke="#48dce0" stroke-width="1.15"/>
<rect x="99.91" y="402.0" width="3.7" height="3.0" fill="#54fcfc"/>
<line x1="106.58" y1="396.0" x2="106.58" y2="412.0" stroke="#48dce0" stroke-width="1.15"/>
<rect x="104.73" y="398.8" width="3.7" height="12.2" fill="#54fcfc"/>
<line x1="111.39" y1="405.5" x2="111.39" y2="415.0" stroke="#48dce0" stroke-width="1.15"/>
<rect x="109.54" y="406.0" width="3.7" height="8.4" fill="#54fcfc"/>
<line x1="116.21" y1="406.0" x2="116.21" y2="407.5" stroke="#d63d35" stroke-width="1.15"/>
<line x1="116.21" y1="411.0" x2="116.21" y2="417.5" stroke="#d63d35" stroke-width="1.15"/>
<rect x="114.71" y="408.0" width="3.0" height="2.5" rx="0.9" fill="#5a1917" stroke="#e2423a" stroke-width="0.95"/>
<line x1="121.02" y1="402.0" x2="121.02" y2="409.4" stroke="#48dce0" stroke-width="1.15"/>
<rect x="119.17" y="402.5" width="3.7" height="5.5" fill="#54fcfc"/>
<line x1="125.83" y1="396.5" x2="125.83" y2="402.3" stroke="#d63d35" stroke-width="1.15"/>
<line x1="125.83" y1="406.8" x2="125.83" y2="410.0" stroke="#d63d35" stroke-width="1.15"/>
<rect x="124.33" y="402.8" width="3.0" height="3.5" rx="0.9" fill="#5a1917" stroke="#e2423a" stroke-width="0.95"/>
<line x1="130.65" y1="403.5" x2="130.65" y2="410.5" stroke="#48dce0" stroke-width="1.15"/>
<rect x="128.80" y="404.0" width="3.7" height="6.0" fill="#54fcfc"/>
<line x1="135.46" y1="397.5" x2="135.46" y2="413.0" stroke="#48dce0" stroke-width="1.15"/>
<rect x="133.61" y="410.0" width="3.7" height="2.5" fill="#54fcfc"/>
<line x1="140.27" y1="411.7" x2="140.27" y2="415.8" stroke="#d63d35" stroke-width="1.15"/>
<line x1="140.27" y1="423.3" x2="140.27" y2="425.8" stroke="#d63d35" stroke-width="1.15"/>
<rect x="138.77" y="416.3" width="3.0" height="6.5" rx="0.9" fill="#5a1917" stroke="#e2423a" stroke-width="0.95"/>
<line x1="145.09" y1="398.3" x2="145.09" y2="416.5" stroke="#48dce0" stroke-width="1.15"/>
<rect x="143.24" y="410.8" width="3.7" height="5.0" fill="#54fcfc"/>
<line x1="149.90" y1="406.0" x2="149.90" y2="406.7" stroke="#d63d35" stroke-width="1.15"/>
<line x1="149.90" y1="409.0" x2="149.90" y2="409.5" stroke="#d63d35" stroke-width="1.15"/>
<rect x="148.40" y="407.2" width="3.0" height="1.3" rx="0.9" fill="#5a1917" stroke="#e2423a" stroke-width="0.95"/>
<line x1="154.72" y1="407.0" x2="154.72" y2="415.8" stroke="#48dce0" stroke-width="1.15"/>
<rect x="152.87" y="407.5" width="3.7" height="3.3" fill="#54fcfc"/>
<line x1="159.53" y1="396.7" x2="159.53" y2="402.5" stroke="#d63d35" stroke-width="1.15"/>
<line x1="159.53" y1="410.0" x2="159.53" y2="410.5" stroke="#d63d35" stroke-width="1.15"/>
<rect x="158.03" y="403.0" width="3.0" height="6.5" rx="0.9" fill="#5a1917" stroke="#e2423a" stroke-width="0.95"/>
<line x1="164.34" y1="370.8" x2="164.34" y2="376.7" stroke="#d63d35" stroke-width="1.15"/>
<line x1="164.34" y1="403.3" x2="164.34" y2="404.0" stroke="#d63d35" stroke-width="1.15"/>
<rect x="162.84" y="377.2" width="3.0" height="25.6" rx="0.9" fill="#5a1917" stroke="#e2423a" stroke-width="0.95"/>
<line x1="169.16" y1="328.0" x2="169.16" y2="353.3" stroke="#d63d35" stroke-width="1.15"/>
<line x1="169.16" y1="374.2" x2="169.16" y2="376.7" stroke="#d63d35" stroke-width="1.15"/>
<rect x="167.66" y="353.8" width="3.0" height="19.9" rx="0.9" fill="#5a1917" stroke="#e2423a" stroke-width="0.95"/>
<line x1="173.97" y1="344.0" x2="173.97" y2="345.8" stroke="#d63d35" stroke-width="1.15"/>
<line x1="173.97" y1="357.5" x2="173.97" y2="363.3" stroke="#d63d35" stroke-width="1.15"/>
<rect x="172.47" y="346.3" width="3.0" height="10.7" rx="0.9" fill="#5a1917" stroke="#e2423a" stroke-width="0.95"/>
<line x1="178.79" y1="331.3" x2="178.79" y2="350.8" stroke="#48dce0" stroke-width="1.15"/>
<rect x="176.94" y="342.5" width="3.7" height="3.3" fill="#54fcfc"/>
<line x1="183.60" y1="352.0" x2="183.60" y2="374.0" stroke="#48dce0" stroke-width="1.15"/>
<rect x="181.75" y="352.5" width="3.7" height="16.5" fill="#54fcfc"/>
<line x1="188.41" y1="332.0" x2="188.41" y2="341.7" stroke="#d63d35" stroke-width="1.15"/>
<line x1="188.41" y1="365.0" x2="188.41" y2="368.0" stroke="#d63d35" stroke-width="1.15"/>
<rect x="186.91" y="342.2" width="3.0" height="22.3" rx="0.9" fill="#5a1917" stroke="#e2423a" stroke-width="0.95"/>
<line x1="193.23" y1="325.0" x2="193.23" y2="325.5" stroke="#d63d35" stroke-width="1.15"/>
<line x1="193.23" y1="345.0" x2="193.23" y2="348.0" stroke="#d63d35" stroke-width="1.15"/>
<rect x="191.73" y="326.0" width="3.0" height="18.5" rx="0.9" fill="#5a1917" stroke="#e2423a" stroke-width="0.95"/>
<line x1="198.04" y1="261.3" x2="198.04" y2="266.3" stroke="#d63d35" stroke-width="1.15"/>
<line x1="198.04" y1="328.8" x2="198.04" y2="329.5" stroke="#d63d35" stroke-width="1.15"/>
<rect x="196.54" y="266.8" width="3.0" height="61.5" rx="0.9" fill="#5a1917" stroke="#e2423a" stroke-width="0.95"/>
<line x1="202.86" y1="190.8" x2="202.86" y2="195.8" stroke="#d63d35" stroke-width="1.15"/>
<line x1="202.86" y1="249.7" x2="202.86" y2="258.8" stroke="#d63d35" stroke-width="1.15"/>
<rect x="201.36" y="196.3" width="3.0" height="52.9" rx="0.9" fill="#5a1917" stroke="#e2423a" stroke-width="0.95"/>
<line x1="207.67" y1="100.8" x2="207.67" y2="103.3" stroke="#d63d35" stroke-width="1.15"/>
<line x1="207.67" y1="159.2" x2="207.67" y2="161.7" stroke="#d63d35" stroke-width="1.15"/>
<rect x="206.17" y="103.8" width="3.0" height="54.9" rx="0.9" fill="#5a1917" stroke="#e2423a" stroke-width="0.95"/>
<line x1="212.49" y1="80.0" x2="212.49" y2="143.3" stroke="#48dce0" stroke-width="1.15"/>
<rect x="210.64" y="80.8" width="3.7" height="45.0" fill="#54fcfc"/>
<line x1="217.30" y1="36.7" x2="217.30" y2="59.2" stroke="#d63d35" stroke-width="1.15"/>
<line x1="217.30" y1="128.3" x2="217.30" y2="129.0" stroke="#d63d35" stroke-width="1.15"/>
<rect x="215.80" y="59.7" width="3.0" height="68.1" rx="0.9" fill="#5a1917" stroke="#e2423a" stroke-width="0.95"/>
<line x1="222.11" y1="32.5" x2="222.11" y2="53.3" stroke="#d63d35" stroke-width="1.15"/>
<line x1="222.11" y1="71.7" x2="222.11" y2="87.5" stroke="#d63d35" stroke-width="1.15"/>
<rect x="220.61" y="53.8" width="3.0" height="17.4" rx="0.9" fill="#5a1917" stroke="#e2423a" stroke-width="0.95"/>
<line x1="226.93" y1="47.5" x2="226.93" y2="82.5" stroke="#48dce0" stroke-width="1.15"/>
<rect x="225.08" y="73.3" width="3.7" height="5.0" fill="#54fcfc"/>
<line x1="231.74" y1="35.8" x2="231.74" y2="59.2" stroke="#d63d35" stroke-width="1.15"/>
<line x1="231.74" y1="84.2" x2="231.74" y2="95.8" stroke="#d63d35" stroke-width="1.15"/>
<rect x="230.24" y="59.7" width="3.0" height="24.0" rx="0.9" fill="#5a1917" stroke="#e2423a" stroke-width="0.95"/>
<line x1="236.56" y1="50.0" x2="236.56" y2="60.0" stroke="#d63d35" stroke-width="1.15"/>
<line x1="236.56" y1="73.3" x2="236.56" y2="85.8" stroke="#d63d35" stroke-width="1.15"/>
<rect x="235.06" y="60.5" width="3.0" height="12.3" rx="0.9" fill="#5a1917" stroke="#e2423a" stroke-width="0.95"/>
<line x1="241.37" y1="43.3" x2="241.37" y2="95.0" stroke="#48dce0" stroke-width="1.15"/>
<rect x="239.52" y="49.2" width="3.7" height="45.0" fill="#54fcfc"/>
<line x1="246.19" y1="72.5" x2="246.19" y2="151.5" stroke="#48dce0" stroke-width="1.15"/>
<rect x="244.34" y="96.7" width="3.7" height="54.1" fill="#54fcfc"/>
<line x1="251.00" y1="137.5" x2="251.00" y2="194.2" stroke="#48dce0" stroke-width="1.15"/>
<rect x="249.15" y="139.2" width="3.7" height="40.0" fill="#54fcfc"/>
<line x1="255.82" y1="116.7" x2="255.82" y2="130.0" stroke="#d63d35" stroke-width="1.15"/>
<line x1="255.82" y1="162.5" x2="255.82" y2="167.5" stroke="#d63d35" stroke-width="1.15"/>
<rect x="254.32" y="130.5" width="3.0" height="31.5" rx="0.9" fill="#5a1917" stroke="#e2423a" stroke-width="0.95"/>
<line x1="260.63" y1="125.0" x2="260.63" y2="155.0" stroke="#48dce0" stroke-width="1.15"/>
<rect x="258.78" y="130.8" width="3.7" height="16.7" fill="#54fcfc"/>
<line x1="265.45" y1="100.0" x2="265.45" y2="138.3" stroke="#d63d35" stroke-width="1.15"/>
<line x1="265.45" y1="145.0" x2="265.45" y2="149.0" stroke="#d63d35" stroke-width="1.15"/>
<rect x="263.95" y="138.8" width="3.0" height="5.7" rx="0.9" fill="#5a1917" stroke="#e2423a" stroke-width="0.95"/>
<line x1="270.27" y1="129.2" x2="270.27" y2="135.0" stroke="#d63d35" stroke-width="1.15"/>
<line x1="270.27" y1="155.0" x2="270.27" y2="167.5" stroke="#d63d35" stroke-width="1.15"/>
<rect x="268.77" y="135.5" width="3.0" height="19.0" rx="0.9" fill="#5a1917" stroke="#e2423a" stroke-width="0.95"/>
<line x1="275.08" y1="138.3" x2="275.08" y2="210.0" stroke="#48dce0" stroke-width="1.15"/>
<rect x="273.23" y="145.0" width="3.7" height="57.5" fill="#54fcfc"/>
<line x1="279.90" y1="190.8" x2="279.90" y2="222.5" stroke="#48dce0" stroke-width="1.15"/>
<rect x="278.05" y="198.3" width="3.7" height="2.5" fill="#54fcfc"/>
<line x1="284.71" y1="188.3" x2="284.71" y2="211.7" stroke="#48dce0" stroke-width="1.15"/>
<rect x="282.86" y="190.8" width="3.7" height="10.0" fill="#54fcfc"/>
<line x1="289.53" y1="160.0" x2="289.53" y2="161.7" stroke="#d63d35" stroke-width="1.15"/>
<line x1="289.53" y1="206.7" x2="289.53" y2="208.3" stroke="#d63d35" stroke-width="1.15"/>
<rect x="288.03" y="162.2" width="3.0" height="44.0" rx="0.9" fill="#5a1917" stroke="#e2423a" stroke-width="0.95"/>
<line x1="294.34" y1="159.2" x2="294.34" y2="177.5" stroke="#48dce0" stroke-width="1.15"/>
<rect x="292.49" y="160.8" width="3.7" height="13.4" fill="#54fcfc"/>
<line x1="299.16" y1="140.8" x2="299.16" y2="158.3" stroke="#d63d35" stroke-width="1.15"/>
<line x1="299.16" y1="176.7" x2="299.16" y2="177.5" stroke="#d63d35" stroke-width="1.15"/>
<rect x="297.66" y="158.8" width="3.0" height="17.4" rx="0.9" fill="#5a1917" stroke="#e2423a" stroke-width="0.95"/>
<line x1="303.98" y1="135.0" x2="303.98" y2="135.8" stroke="#d63d35" stroke-width="1.15"/>
<line x1="303.98" y1="141.7" x2="303.98" y2="159.2" stroke="#d63d35" stroke-width="1.15"/>
<rect x="302.48" y="136.3" width="3.0" height="4.9" rx="0.9" fill="#5a1917" stroke="#e2423a" stroke-width="0.95"/>
<line x1="308.79" y1="120.0" x2="308.79" y2="145.8" stroke="#48dce0" stroke-width="1.15"/>
<rect x="306.94" y="134.2" width="3.7" height="6.6" fill="#54fcfc"/>
<line x1="313.61" y1="140.0" x2="313.61" y2="160.8" stroke="#48dce0" stroke-width="1.15"/>
<rect x="311.76" y="147.8" width="3.7" height="1.6" fill="#54fcfc"/>
<line x1="318.42" y1="101.7" x2="318.42" y2="111.7" stroke="#d63d35" stroke-width="1.15"/>
<line x1="318.42" y1="145.0" x2="318.42" y2="166.7" stroke="#d63d35" stroke-width="1.15"/>
<rect x="316.92" y="112.2" width="3.0" height="32.3" rx="0.9" fill="#5a1917" stroke="#e2423a" stroke-width="0.95"/>
<line x1="323.24" y1="113.3" x2="323.24" y2="170.0" stroke="#48dce0" stroke-width="1.15"/>
<rect x="321.39" y="139.5" width="3.7" height="1.6" fill="#54fcfc"/>
<line x1="328.06" y1="115.8" x2="328.06" y2="140.0" stroke="#d63d35" stroke-width="1.15"/>
<line x1="328.06" y1="160.0" x2="328.06" y2="165.0" stroke="#d63d35" stroke-width="1.15"/>
<rect x="326.56" y="140.5" width="3.0" height="19.0" rx="0.9" fill="#5a1917" stroke="#e2423a" stroke-width="0.95"/>
<line x1="332.87" y1="124.0" x2="332.87" y2="171.7" stroke="#48dce0" stroke-width="1.15"/>
<rect x="331.02" y="138.3" width="3.7" height="31.7" fill="#54fcfc"/>
<line x1="337.69" y1="165.0" x2="337.69" y2="196.7" stroke="#48dce0" stroke-width="1.15"/>
<rect x="335.84" y="175.8" width="3.7" height="1.7" fill="#54fcfc"/>
<line x1="342.51" y1="160.0" x2="342.51" y2="171.7" stroke="#d63d35" stroke-width="1.15"/>
<line x1="342.51" y1="173.3" x2="342.51" y2="180.8" stroke="#d63d35" stroke-width="1.15"/>
<rect x="341.01" y="172.2" width="3.0" height="0.6" rx="0.9" fill="#5a1917" stroke="#e2423a" stroke-width="0.95"/>
<line x1="347.32" y1="155.8" x2="347.32" y2="157.5" stroke="#d63d35" stroke-width="1.15"/>
<line x1="347.32" y1="178.3" x2="347.32" y2="180.0" stroke="#d63d35" stroke-width="1.15"/>
<rect x="345.82" y="158.0" width="3.0" height="19.8" rx="0.9" fill="#5a1917" stroke="#e2423a" stroke-width="0.95"/>
<line x1="352.14" y1="81.7" x2="352.14" y2="105.8" stroke="#d63d35" stroke-width="1.15"/>
<line x1="352.14" y1="136.7" x2="352.14" y2="139.2" stroke="#d63d35" stroke-width="1.15"/>
<rect x="350.64" y="106.3" width="3.0" height="29.9" rx="0.9" fill="#5a1917" stroke="#e2423a" stroke-width="0.95"/>
<line x1="356.96" y1="92.5" x2="356.96" y2="116.7" stroke="#48dce0" stroke-width="1.15"/>
<rect x="355.11" y="106.7" width="3.7" height="2.5" fill="#54fcfc"/>
<line x1="361.77" y1="98.3" x2="361.77" y2="129.2" stroke="#48dce0" stroke-width="1.15"/>
<rect x="359.92" y="112.5" width="3.7" height="15.0" fill="#54fcfc"/>
<line x1="366.59" y1="131.7" x2="366.59" y2="151.7" stroke="#48dce0" stroke-width="1.15"/>
<rect x="364.74" y="136.7" width="3.7" height="10.8" fill="#54fcfc"/>
<line x1="371.41" y1="125.0" x2="371.41" y2="131.7" stroke="#d63d35" stroke-width="1.15"/>
<line x1="371.41" y1="139.2" x2="371.41" y2="146.7" stroke="#d63d35" stroke-width="1.15"/>
<rect x="369.91" y="132.2" width="3.0" height="6.5" rx="0.9" fill="#5a1917" stroke="#e2423a" stroke-width="0.95"/>
<line x1="376.22" y1="129.2" x2="376.22" y2="141.0" stroke="#48dce0" stroke-width="1.15"/>
<rect x="374.37" y="131.7" width="3.7" height="8.3" fill="#54fcfc"/>
<line x1="381.04" y1="124.2" x2="381.04" y2="149.2" stroke="#48dce0" stroke-width="1.15"/>
<rect x="379.19" y="136.7" width="3.7" height="6.6" fill="#54fcfc"/>
<line x1="385.86" y1="143.3" x2="385.86" y2="172.0" stroke="#48dce0" stroke-width="1.15"/>
<rect x="384.01" y="148.3" width="3.7" height="23.4" fill="#54fcfc"/>
<line x1="390.68" y1="160.0" x2="390.68" y2="165.8" stroke="#d63d35" stroke-width="1.15"/>
<line x1="390.68" y1="169.2" x2="390.68" y2="178.3" stroke="#d63d35" stroke-width="1.15"/>
<rect x="389.18" y="166.3" width="3.0" height="2.4" rx="0.9" fill="#5a1917" stroke="#e2423a" stroke-width="0.95"/>
<line x1="395.50" y1="134.2" x2="395.50" y2="139.2" stroke="#d63d35" stroke-width="1.15"/>
<line x1="395.50" y1="167.5" x2="395.50" y2="170.0" stroke="#d63d35" stroke-width="1.15"/>
<rect x="394.00" y="139.7" width="3.0" height="27.3" rx="0.9" fill="#5a1917" stroke="#e2423a" stroke-width="0.95"/>
<line x1="400.31" y1="109.2" x2="400.31" y2="144.0" stroke="#48dce0" stroke-width="1.15"/>
<rect x="398.46" y="129.2" width="3.7" height="14.1" fill="#54fcfc"/>
<line x1="405.13" y1="135.0" x2="405.13" y2="135.8" stroke="#d63d35" stroke-width="1.15"/>
<line x1="405.13" y1="148.3" x2="405.13" y2="150.8" stroke="#d63d35" stroke-width="1.15"/>
<rect x="403.63" y="136.3" width="3.0" height="11.5" rx="0.9" fill="#5a1917" stroke="#e2423a" stroke-width="0.95"/>
<line x1="409.95" y1="125.8" x2="409.95" y2="151.7" stroke="#48dce0" stroke-width="1.15"/>
<rect x="408.10" y="134.2" width="3.7" height="1.6" fill="#54fcfc"/>
<line x1="414.77" y1="120.0" x2="414.77" y2="148.3" stroke="#48dce0" stroke-width="1.15"/>
<rect x="412.92" y="139.2" width="3.7" height="4.1" fill="#54fcfc"/>
<line x1="419.59" y1="150.0" x2="419.59" y2="154.2" stroke="#d63d35" stroke-width="1.15"/>
<line x1="419.59" y1="164.2" x2="419.59" y2="165.0" stroke="#d63d35" stroke-width="1.15"/>
<rect x="418.09" y="154.7" width="3.0" height="9.0" rx="0.9" fill="#5a1917" stroke="#e2423a" stroke-width="0.95"/>
<line x1="424.40" y1="150.8" x2="424.40" y2="187.0" stroke="#48dce0" stroke-width="1.15"/>
<rect x="422.55" y="156.7" width="3.7" height="30.0" fill="#54fcfc"/>
<line x1="429.22" y1="163.3" x2="429.22" y2="165.8" stroke="#d63d35" stroke-width="1.15"/>
<line x1="429.22" y1="185.8" x2="429.22" y2="190.8" stroke="#d63d35" stroke-width="1.15"/>
<rect x="427.72" y="166.3" width="3.0" height="19.0" rx="0.9" fill="#5a1917" stroke="#e2423a" stroke-width="0.95"/>
<line x1="434.04" y1="172.5" x2="434.04" y2="193.3" stroke="#48dce0" stroke-width="1.15"/>
<rect x="432.19" y="181.7" width="3.7" height="8.3" fill="#54fcfc"/>
<line x1="438.86" y1="178.3" x2="438.86" y2="210.5" stroke="#48dce0" stroke-width="1.15"/>
<rect x="437.01" y="179.2" width="3.7" height="30.8" fill="#54fcfc"/>
<line x1="443.68" y1="205.0" x2="443.68" y2="208.3" stroke="#d63d35" stroke-width="1.15"/>
<line x1="443.68" y1="215.0" x2="443.68" y2="221.7" stroke="#d63d35" stroke-width="1.15"/>
<rect x="442.18" y="208.8" width="3.0" height="5.7" rx="0.9" fill="#5a1917" stroke="#e2423a" stroke-width="0.95"/>
<line x1="448.50" y1="203.3" x2="448.50" y2="215.0" stroke="#48dce0" stroke-width="1.15"/>
<rect x="446.65" y="204.2" width="3.7" height="2.5" fill="#54fcfc"/>
<line x1="453.32" y1="202.2" x2="453.32" y2="206.0" stroke="#d63d35" stroke-width="1.15"/>
<line x1="453.32" y1="207.6" x2="453.32" y2="212.4" stroke="#d63d35" stroke-width="1.15"/>
<rect x="451.82" y="206.5" width="3.0" height="0.6" rx="0.9" fill="#5a1917" stroke="#e2423a" stroke-width="0.95"/>
<line x1="458.13" y1="193.9" x2="458.13" y2="212.4" stroke="#48dce0" stroke-width="1.15"/>
<rect x="456.28" y="206.0" width="3.7" height="1.6" fill="#54fcfc"/>
<line x1="462.95" y1="208.3" x2="462.95" y2="225.8" stroke="#48dce0" stroke-width="1.15"/>
<rect x="461.10" y="212.5" width="3.7" height="5.0" fill="#54fcfc"/>
<line x1="467.77" y1="164.2" x2="467.77" y2="167.5" stroke="#d63d35" stroke-width="1.15"/>
<line x1="467.77" y1="218.3" x2="467.77" y2="219.0" stroke="#d63d35" stroke-width="1.15"/>
<rect x="466.27" y="168.0" width="3.0" height="49.8" rx="0.9" fill="#5a1917" stroke="#e2423a" stroke-width="0.95"/>
<line x1="472.59" y1="137.5" x2="472.59" y2="171.0" stroke="#48dce0" stroke-width="1.15"/>
<rect x="470.74" y="140.0" width="3.7" height="30.8" fill="#54fcfc"/>
<line x1="477.41" y1="137.5" x2="477.41" y2="168.3" stroke="#d63d35" stroke-width="1.15"/>
<line x1="477.41" y1="180.8" x2="477.41" y2="182.5" stroke="#d63d35" stroke-width="1.15"/>
<rect x="475.91" y="168.8" width="3.0" height="11.5" rx="0.9" fill="#5a1917" stroke="#e2423a" stroke-width="0.95"/>
<line x1="482.23" y1="162.5" x2="482.23" y2="180.0" stroke="#48dce0" stroke-width="1.15"/>
<rect x="480.38" y="167.5" width="3.7" height="10.8" fill="#54fcfc"/>
<line x1="487.05" y1="170.0" x2="487.05" y2="190.0" stroke="#48dce0" stroke-width="1.15"/>
<rect x="485.20" y="183.3" width="3.7" height="5.9" fill="#54fcfc"/>
<line x1="491.87" y1="165.0" x2="491.87" y2="172.5" stroke="#d63d35" stroke-width="1.15"/>
<line x1="491.87" y1="185.8" x2="491.87" y2="187.5" stroke="#d63d35" stroke-width="1.15"/>
<rect x="490.37" y="173.0" width="3.0" height="12.3" rx="0.9" fill="#5a1917" stroke="#e2423a" stroke-width="0.95"/>
<line x1="496.69" y1="166.7" x2="496.69" y2="173.3" stroke="#d63d35" stroke-width="1.15"/>
<line x1="496.69" y1="177.5" x2="496.69" y2="178.0" stroke="#d63d35" stroke-width="1.15"/>
<rect x="495.19" y="173.8" width="3.0" height="3.2" rx="0.9" fill="#5a1917" stroke="#e2423a" stroke-width="0.95"/>
<line x1="501.51" y1="160.8" x2="501.51" y2="172.0" stroke="#48dce0" stroke-width="1.15"/>
<rect x="499.66" y="169.2" width="3.7" height="2.5" fill="#54fcfc"/>
<line x1="506.33" y1="166.7" x2="506.33" y2="190.8" stroke="#48dce0" stroke-width="1.15"/>
<rect x="504.48" y="169.2" width="3.7" height="13.3" fill="#54fcfc"/>
<line x1="511.15" y1="166.7" x2="511.15" y2="167.5" stroke="#d63d35" stroke-width="1.15"/>
<line x1="511.15" y1="173.3" x2="511.15" y2="174.0" stroke="#d63d35" stroke-width="1.15"/>
<rect x="509.65" y="168.0" width="3.0" height="4.8" rx="0.9" fill="#5a1917" stroke="#e2423a" stroke-width="0.95"/>
<line x1="515.97" y1="127.5" x2="515.97" y2="130.8" stroke="#d63d35" stroke-width="1.15"/>
<line x1="515.97" y1="160.0" x2="515.97" y2="161.7" stroke="#d63d35" stroke-width="1.15"/>
<rect x="514.47" y="131.3" width="3.0" height="28.2" rx="0.9" fill="#5a1917" stroke="#e2423a" stroke-width="0.95"/>
<line x1="520.79" y1="142.5" x2="520.79" y2="155.0" stroke="#48dce0" stroke-width="1.15"/>
<rect x="518.94" y="143.3" width="3.7" height="3.4" fill="#54fcfc"/>
<line x1="525.61" y1="145.8" x2="525.61" y2="156.5" stroke="#48dce0" stroke-width="1.15"/>
<rect x="523.76" y="147.5" width="3.7" height="8.3" fill="#54fcfc"/>
<line x1="530.43" y1="142.5" x2="530.43" y2="160.5" stroke="#48dce0" stroke-width="1.15"/>
<rect x="528.58" y="154.0" width="3.7" height="6.0" fill="#54fcfc"/>
<line x1="535.25" y1="151.7" x2="535.25" y2="155.0" stroke="#d63d35" stroke-width="1.15"/>
<line x1="535.25" y1="160.8" x2="535.25" y2="163.3" stroke="#d63d35" stroke-width="1.15"/>
<rect x="533.75" y="155.5" width="3.0" height="4.8" rx="0.9" fill="#5a1917" stroke="#e2423a" stroke-width="0.95"/>
<line x1="540.07" y1="139.0" x2="540.07" y2="167.0" stroke="#48dce0" stroke-width="1.15"/>
<rect x="538.22" y="147.5" width="3.7" height="19.2" fill="#54fcfc"/>
<line x1="544.89" y1="165.0" x2="544.89" y2="165.8" stroke="#d63d35" stroke-width="1.15"/>
<line x1="544.89" y1="171.7" x2="544.89" y2="180.8" stroke="#d63d35" stroke-width="1.15"/>
<rect x="543.39" y="166.3" width="3.0" height="4.9" rx="0.9" fill="#5a1917" stroke="#e2423a" stroke-width="0.95"/>
<line x1="549.72" y1="165.0" x2="549.72" y2="177.5" stroke="#48dce0" stroke-width="1.15"/>
<rect x="547.87" y="166.7" width="3.7" height="5.0" fill="#54fcfc"/>
<line x1="554.54" y1="155.0" x2="554.54" y2="164.2" stroke="#d63d35" stroke-width="1.15"/>
<line x1="554.54" y1="175.0" x2="554.54" y2="177.5" stroke="#d63d35" stroke-width="1.15"/>
<rect x="553.04" y="164.7" width="3.0" height="9.8" rx="0.9" fill="#5a1917" stroke="#e2423a" stroke-width="0.95"/>
<line x1="559.36" y1="159.2" x2="559.36" y2="183.0" stroke="#48dce0" stroke-width="1.15"/>
<rect x="557.51" y="165.0" width="3.7" height="17.5" fill="#54fcfc"/>
<line x1="564.18" y1="188.5" x2="564.18" y2="220.8" stroke="#48dce0" stroke-width="1.15"/>
<rect x="562.33" y="189.2" width="3.7" height="25.8" fill="#54fcfc"/>
<line x1="569.00" y1="212.5" x2="569.00" y2="215.0" stroke="#d63d35" stroke-width="1.15"/>
<line x1="569.00" y1="219.2" x2="569.00" y2="224.2" stroke="#d63d35" stroke-width="1.15"/>
<rect x="567.50" y="215.5" width="3.0" height="3.2" rx="0.9" fill="#5a1917" stroke="#e2423a" stroke-width="0.95"/>
<line x1="573.82" y1="206.7" x2="573.82" y2="210.0" stroke="#d63d35" stroke-width="1.15"/>
<line x1="573.82" y1="216.7" x2="573.82" y2="221.7" stroke="#d63d35" stroke-width="1.15"/>
<rect x="572.32" y="210.5" width="3.0" height="5.7" rx="0.9" fill="#5a1917" stroke="#e2423a" stroke-width="0.95"/>
<line x1="578.64" y1="193.3" x2="578.64" y2="202.5" stroke="#d63d35" stroke-width="1.15"/>
<line x1="578.64" y1="221.7" x2="578.64" y2="222.5" stroke="#d63d35" stroke-width="1.15"/>
<rect x="577.14" y="203.0" width="3.0" height="18.2" rx="0.9" fill="#5a1917" stroke="#e2423a" stroke-width="0.95"/>
<line x1="583.47" y1="197.5" x2="583.47" y2="235.0" stroke="#48dce0" stroke-width="1.15"/>
<rect x="581.62" y="205.8" width="3.7" height="28.4" fill="#54fcfc"/>
<line x1="588.29" y1="210.8" x2="588.29" y2="247.9" stroke="#48dce0" stroke-width="1.15"/>
<rect x="586.44" y="232.5" width="3.7" height="3.3" fill="#54fcfc"/>
<line x1="593.11" y1="202.5" x2="593.11" y2="211.7" stroke="#d63d35" stroke-width="1.15"/>
<line x1="593.11" y1="234.2" x2="593.11" y2="235.0" stroke="#d63d35" stroke-width="1.15"/>
<rect x="591.61" y="212.2" width="3.0" height="21.5" rx="0.9" fill="#5a1917" stroke="#e2423a" stroke-width="0.95"/>
<line x1="597.93" y1="210.0" x2="597.93" y2="225.8" stroke="#48dce0" stroke-width="1.15"/>
<rect x="596.08" y="212.5" width="3.7" height="4.2" fill="#54fcfc"/>
<line x1="602.75" y1="194.2" x2="602.75" y2="210.0" stroke="#48dce0" stroke-width="1.15"/>
<rect x="600.90" y="202.5" width="3.7" height="1.7" fill="#54fcfc"/>
<line x1="607.58" y1="188.3" x2="607.58" y2="198.3" stroke="#d63d35" stroke-width="1.15"/>
<line x1="607.58" y1="202.5" x2="607.58" y2="205.8" stroke="#d63d35" stroke-width="1.15"/>
<rect x="606.08" y="198.8" width="3.0" height="3.2" rx="0.9" fill="#5a1917" stroke="#e2423a" stroke-width="0.95"/>
<line x1="612.40" y1="149.2" x2="612.40" y2="160.8" stroke="#d63d35" stroke-width="1.15"/>
<line x1="612.40" y1="191.7" x2="612.40" y2="195.8" stroke="#d63d35" stroke-width="1.15"/>
<rect x="610.90" y="161.3" width="3.0" height="29.9" rx="0.9" fill="#5a1917" stroke="#e2423a" stroke-width="0.95"/>
<line x1="617.22" y1="157.0" x2="617.22" y2="181.7" stroke="#48dce0" stroke-width="1.15"/>
<rect x="615.37" y="157.5" width="3.7" height="20.8" fill="#54fcfc"/>
<line x1="622.04" y1="177.5" x2="622.04" y2="200.0" stroke="#48dce0" stroke-width="1.15"/>
<rect x="620.19" y="181.7" width="3.7" height="17.5" fill="#54fcfc"/>
<line x1="626.86" y1="192.5" x2="626.86" y2="207.5" stroke="#48dce0" stroke-width="1.15"/>
<rect x="625.01" y="196.7" width="3.7" height="9.1" fill="#54fcfc"/>
<line x1="631.69" y1="208.5" x2="631.69" y2="218.3" stroke="#48dce0" stroke-width="1.15"/>
<rect x="629.84" y="209.2" width="3.7" height="5.0" fill="#54fcfc"/>
<line x1="636.51" y1="202.5" x2="636.51" y2="204.2" stroke="#d63d35" stroke-width="1.15"/>
<line x1="636.51" y1="206.7" x2="636.51" y2="217.5" stroke="#d63d35" stroke-width="1.15"/>
<rect x="635.01" y="204.7" width="3.0" height="1.5" rx="0.9" fill="#5a1917" stroke="#e2423a" stroke-width="0.95"/>
<line x1="641.33" y1="204.2" x2="641.33" y2="205.0" stroke="#d63d35" stroke-width="1.15"/>
<line x1="641.33" y1="206.7" x2="641.33" y2="218.3" stroke="#d63d35" stroke-width="1.15"/>
<rect x="639.83" y="205.5" width="3.0" height="0.7" rx="0.9" fill="#5a1917" stroke="#e2423a" stroke-width="0.95"/>
<line x1="646.16" y1="187.5" x2="646.16" y2="199.2" stroke="#d63d35" stroke-width="1.15"/>
<line x1="646.16" y1="202.5" x2="646.16" y2="204.0" stroke="#d63d35" stroke-width="1.15"/>
<rect x="644.66" y="199.7" width="3.0" height="2.3" rx="0.9" fill="#5a1917" stroke="#e2423a" stroke-width="0.95"/>
<line x1="650.98" y1="193.3" x2="650.98" y2="195.8" stroke="#d63d35" stroke-width="1.15"/>
<line x1="650.98" y1="207.5" x2="650.98" y2="217.5" stroke="#d63d35" stroke-width="1.15"/>
<rect x="649.48" y="196.3" width="3.0" height="10.7" rx="0.9" fill="#5a1917" stroke="#e2423a" stroke-width="0.95"/>
<line x1="655.80" y1="193.3" x2="655.80" y2="195.0" stroke="#d63d35" stroke-width="1.15"/>
<line x1="655.80" y1="198.3" x2="655.80" y2="199.0" stroke="#d63d35" stroke-width="1.15"/>
<rect x="654.30" y="195.5" width="3.0" height="2.3" rx="0.9" fill="#5a1917" stroke="#e2423a" stroke-width="0.95"/>
<line x1="660.63" y1="161.7" x2="660.63" y2="177.5" stroke="#d63d35" stroke-width="1.15"/>
<line x1="660.63" y1="202.5" x2="660.63" y2="203.0" stroke="#d63d35" stroke-width="1.15"/>
<rect x="659.13" y="178.0" width="3.0" height="24.0" rx="0.9" fill="#5a1917" stroke="#e2423a" stroke-width="0.95"/>
<line x1="665.45" y1="172.5" x2="665.45" y2="188.3" stroke="#48dce0" stroke-width="1.15"/>
<rect x="663.60" y="180.0" width="3.7" height="6.7" fill="#54fcfc"/>
<line x1="670.27" y1="172.5" x2="670.27" y2="201.5" stroke="#48dce0" stroke-width="1.15"/>
<rect x="668.42" y="178.3" width="3.7" height="22.5" fill="#54fcfc"/>
<line x1="675.10" y1="196.7" x2="675.10" y2="198.3" stroke="#d63d35" stroke-width="1.15"/>
<line x1="675.10" y1="202.5" x2="675.10" y2="207.5" stroke="#d63d35" stroke-width="1.15"/>
<rect x="673.60" y="198.8" width="3.0" height="3.2" rx="0.9" fill="#5a1917" stroke="#e2423a" stroke-width="0.95"/>
<line x1="679.92" y1="175.0" x2="679.92" y2="175.8" stroke="#d63d35" stroke-width="1.15"/>
<line x1="679.92" y1="197.5" x2="679.92" y2="198.0" stroke="#d63d35" stroke-width="1.15"/>
<rect x="678.42" y="176.3" width="3.0" height="20.7" rx="0.9" fill="#5a1917" stroke="#e2423a" stroke-width="0.95"/>
<line x1="684.74" y1="135.0" x2="684.74" y2="174.2" stroke="#48dce0" stroke-width="1.15"/>
<rect x="682.89" y="169.2" width="3.7" height="2.5" fill="#54fcfc"/>
<line x1="689.57" y1="126.7" x2="689.57" y2="135.0" stroke="#d63d35" stroke-width="1.15"/>
<line x1="689.57" y1="173.3" x2="689.57" y2="175.8" stroke="#d63d35" stroke-width="1.15"/>
<rect x="688.07" y="135.5" width="3.0" height="37.3" rx="0.9" fill="#5a1917" stroke="#e2423a" stroke-width="0.95"/>
<line x1="694.39" y1="115.0" x2="694.39" y2="134.2" stroke="#d63d35" stroke-width="1.15"/>
<line x1="694.39" y1="136.7" x2="694.39" y2="144.2" stroke="#d63d35" stroke-width="1.15"/>
<rect x="692.89" y="134.7" width="3.0" height="1.5" rx="0.9" fill="#5a1917" stroke="#e2423a" stroke-width="0.95"/>
<line x1="699.22" y1="122.5" x2="699.22" y2="132.5" stroke="#d63d35" stroke-width="1.15"/>
<line x1="699.22" y1="139.2" x2="699.22" y2="145.0" stroke="#d63d35" stroke-width="1.15"/>
<rect x="697.72" y="133.0" width="3.0" height="5.7" rx="0.9" fill="#5a1917" stroke="#e2423a" stroke-width="0.95"/>
<line x1="704.04" y1="139.0" x2="704.04" y2="158.3" stroke="#48dce0" stroke-width="1.15"/>
<rect x="702.19" y="139.2" width="3.7" height="10.8" fill="#54fcfc"/>
<line x1="708.86" y1="149.2" x2="708.86" y2="170.0" stroke="#48dce0" stroke-width="1.15"/>
<rect x="707.01" y="150.8" width="3.7" height="18.4" fill="#54fcfc"/>
<line x1="713.69" y1="158.3" x2="713.69" y2="167.5" stroke="#d63d35" stroke-width="1.15"/>
<line x1="713.69" y1="170.0" x2="713.69" y2="173.3" stroke="#d63d35" stroke-width="1.15"/>
<rect x="712.19" y="168.0" width="3.0" height="1.5" rx="0.9" fill="#5a1917" stroke="#e2423a" stroke-width="0.95"/>
<line x1="718.51" y1="160.0" x2="718.51" y2="202.0" stroke="#48dce0" stroke-width="1.15"/>
<rect x="716.66" y="165.0" width="3.7" height="36.7" fill="#54fcfc"/>
<line x1="723.34" y1="195.8" x2="723.34" y2="202.5" stroke="#d63d35" stroke-width="1.15"/>
<line x1="723.34" y1="205.8" x2="723.34" y2="212.5" stroke="#d63d35" stroke-width="1.15"/>
<rect x="721.84" y="203.0" width="3.0" height="2.3" rx="0.9" fill="#5a1917" stroke="#e2423a" stroke-width="0.95"/>
<line x1="728.16" y1="202.0" x2="728.16" y2="224.2" stroke="#48dce0" stroke-width="1.15"/>
<rect x="726.31" y="202.5" width="3.7" height="10.8" fill="#54fcfc"/>
<line x1="732.99" y1="210.8" x2="732.99" y2="224.2" stroke="#48dce0" stroke-width="1.15"/>
<rect x="731.14" y="214.2" width="3.7" height="1.6" fill="#54fcfc"/>
<line x1="737.81" y1="210.8" x2="737.81" y2="212.5" stroke="#d63d35" stroke-width="1.15"/>
<line x1="737.81" y1="218.3" x2="737.81" y2="222.5" stroke="#d63d35" stroke-width="1.15"/>
<rect x="736.31" y="213.0" width="3.0" height="4.8" rx="0.9" fill="#5a1917" stroke="#e2423a" stroke-width="0.95"/>
<line x1="742.63" y1="210.0" x2="742.63" y2="224.0" stroke="#48dce0" stroke-width="1.15"/>
<rect x="740.78" y="211.7" width="3.7" height="10.8" fill="#54fcfc"/>
<line x1="747.46" y1="196.7" x2="747.46" y2="197.5" stroke="#d63d35" stroke-width="1.15"/>
<line x1="747.46" y1="225.0" x2="747.46" y2="229.2" stroke="#d63d35" stroke-width="1.15"/>
<rect x="745.96" y="198.0" width="3.0" height="26.5" rx="0.9" fill="#5a1917" stroke="#e2423a" stroke-width="0.95"/>
<line x1="752.28" y1="195.8" x2="752.28" y2="210.0" stroke="#48dce0" stroke-width="1.15"/>
<rect x="750.43" y="200.8" width="3.7" height="8.4" fill="#54fcfc"/>
<line x1="757.11" y1="195.0" x2="757.11" y2="199.2" stroke="#d63d35" stroke-width="1.15"/>
<line x1="757.11" y1="208.3" x2="757.11" y2="216.7" stroke="#d63d35" stroke-width="1.15"/>
<rect x="755.61" y="199.7" width="3.0" height="8.1" rx="0.9" fill="#5a1917" stroke="#e2423a" stroke-width="0.95"/>
<line x1="761.93" y1="203.0" x2="761.93" y2="242.0" stroke="#48dce0" stroke-width="1.15"/>
<rect x="760.08" y="203.3" width="3.7" height="38.4" fill="#54fcfc"/>
<line x1="766.76" y1="225.8" x2="766.76" y2="231.7" stroke="#d63d35" stroke-width="1.15"/>
<line x1="766.76" y1="238.3" x2="766.76" y2="243.3" stroke="#d63d35" stroke-width="1.15"/>
<rect x="765.26" y="232.2" width="3.0" height="5.6" rx="0.9" fill="#5a1917" stroke="#e2423a" stroke-width="0.95"/>
<line x1="771.58" y1="225.8" x2="771.58" y2="243.3" stroke="#48dce0" stroke-width="1.15"/>
<rect x="769.73" y="233.3" width="3.7" height="7.5" fill="#54fcfc"/>
<line x1="776.41" y1="222.5" x2="776.41" y2="230.8" stroke="#d63d35" stroke-width="1.15"/>
<line x1="776.41" y1="242.5" x2="776.41" y2="248.3" stroke="#d63d35" stroke-width="1.15"/>
<rect x="774.91" y="231.3" width="3.0" height="10.7" rx="0.9" fill="#5a1917" stroke="#e2423a" stroke-width="0.95"/>
<line x1="781.23" y1="217.9" x2="781.23" y2="238.4" stroke="#48dce0" stroke-width="1.15"/>
<rect x="779.38" y="232.4" width="3.7" height="1.6" fill="#54fcfc"/>
<line x1="786.06" y1="212.0" x2="786.06" y2="229.4" stroke="#d63d35" stroke-width="1.15"/>
<rect x="784.56" y="229.9" width="3.0" height="0.6" rx="0.9" fill="#5a1917" stroke="#e2423a" stroke-width="0.95"/>
<line x1="790.89" y1="210.0" x2="790.89" y2="210.8" stroke="#d63d35" stroke-width="1.15"/>
<line x1="790.89" y1="231.7" x2="790.89" y2="235.0" stroke="#d63d35" stroke-width="1.15"/>
<rect x="789.39" y="211.3" width="3.0" height="19.9" rx="0.9" fill="#5a1917" stroke="#e2423a" stroke-width="0.95"/>
<line x1="795.71" y1="162.5" x2="795.71" y2="167.5" stroke="#d63d35" stroke-width="1.15"/>
<line x1="795.71" y1="202.5" x2="795.71" y2="203.0" stroke="#d63d35" stroke-width="1.15"/>
<rect x="794.21" y="168.0" width="3.0" height="34.0" rx="0.9" fill="#5a1917" stroke="#e2423a" stroke-width="0.95"/>
<line x1="800.54" y1="151.7" x2="800.54" y2="180.8" stroke="#48dce0" stroke-width="1.15"/>
<rect x="798.69" y="155.0" width="3.7" height="5.8" fill="#54fcfc"/>
<line x1="805.36" y1="153.3" x2="805.36" y2="163.3" stroke="#d63d35" stroke-width="1.15"/>
<line x1="805.36" y1="170.0" x2="805.36" y2="180.8" stroke="#d63d35" stroke-width="1.15"/>
<rect x="803.86" y="163.8" width="3.0" height="5.7" rx="0.9" fill="#5a1917" stroke="#e2423a" stroke-width="0.95"/>
<line x1="810.19" y1="145.8" x2="810.19" y2="171.7" stroke="#48dce0" stroke-width="1.15"/>
<rect x="808.34" y="164.4" width="3.7" height="1.6" fill="#54fcfc"/>
<line x1="815.01" y1="155.8" x2="815.01" y2="156.7" stroke="#d63d35" stroke-width="1.15"/>
<line x1="815.01" y1="162.5" x2="815.01" y2="186.7" stroke="#d63d35" stroke-width="1.15"/>
<rect x="813.51" y="157.2" width="3.0" height="4.8" rx="0.9" fill="#5a1917" stroke="#e2423a" stroke-width="0.95"/>
<line x1="819.84" y1="148.3" x2="819.84" y2="168.3" stroke="#48dce0" stroke-width="1.15"/>
<rect x="817.99" y="156.7" width="3.7" height="10.0" fill="#54fcfc"/>
<line x1="824.67" y1="154.2" x2="824.67" y2="189.0" stroke="#48dce0" stroke-width="1.15"/>
<rect x="822.82" y="159.2" width="3.7" height="29.1" fill="#54fcfc"/>
<line x1="829.49" y1="120.0" x2="829.49" y2="125.8" stroke="#d63d35" stroke-width="1.15"/>
<line x1="829.49" y1="195.0" x2="829.49" y2="196.7" stroke="#d63d35" stroke-width="1.15"/>
<rect x="827.99" y="126.3" width="3.0" height="68.2" rx="0.9" fill="#5a1917" stroke="#e2423a" stroke-width="0.95"/>
<line x1="834.32" y1="120.8" x2="834.32" y2="156.7" stroke="#48dce0" stroke-width="1.15"/>
<rect x="832.47" y="130.0" width="3.7" height="20.8" fill="#54fcfc"/>
<line x1="839.14" y1="156.7" x2="839.14" y2="179.0" stroke="#48dce0" stroke-width="1.15"/>
<rect x="837.29" y="159.2" width="3.7" height="19.1" fill="#54fcfc"/>
<line x1="843.97" y1="160.0" x2="843.97" y2="178.3" stroke="#d63d35" stroke-width="1.15"/>
<line x1="843.97" y1="180.0" x2="843.97" y2="185.8" stroke="#d63d35" stroke-width="1.15"/>
<rect x="842.47" y="178.8" width="3.0" height="0.7" rx="0.9" fill="#5a1917" stroke="#e2423a" stroke-width="0.95"/>
<line x1="848.80" y1="154.2" x2="848.80" y2="170.8" stroke="#d63d35" stroke-width="1.15"/>
<line x1="848.80" y1="184.2" x2="848.80" y2="186.7" stroke="#d63d35" stroke-width="1.15"/>
<rect x="847.30" y="171.3" width="3.0" height="12.4" rx="0.9" fill="#5a1917" stroke="#e2423a" stroke-width="0.95"/>
<line x1="853.62" y1="152.5" x2="853.62" y2="170.8" stroke="#d63d35" stroke-width="1.15"/>
<line x1="853.62" y1="172.5" x2="853.62" y2="177.5" stroke="#d63d35" stroke-width="1.15"/>
<rect x="852.12" y="171.3" width="3.0" height="0.7" rx="0.9" fill="#5a1917" stroke="#e2423a" stroke-width="0.95"/>
<line x1="858.45" y1="155.8" x2="858.45" y2="174.2" stroke="#48dce0" stroke-width="1.15"/>
<rect x="856.60" y="169.2" width="3.7" height="1.6" fill="#54fcfc"/>
<line x1="863.27" y1="137.5" x2="863.27" y2="156.7" stroke="#d63d35" stroke-width="1.15"/>
<line x1="863.27" y1="171.7" x2="863.27" y2="173.3" stroke="#d63d35" stroke-width="1.15"/>
<rect x="861.77" y="157.2" width="3.0" height="14.0" rx="0.9" fill="#5a1917" stroke="#e2423a" stroke-width="0.95"/>
<line x1="868.10" y1="157.5" x2="868.10" y2="182.5" stroke="#48dce0" stroke-width="1.15"/>
<rect x="866.25" y="164.2" width="3.7" height="15.8" fill="#54fcfc"/>
<line x1="872.93" y1="173.3" x2="872.93" y2="189.2" stroke="#48dce0" stroke-width="1.15"/>
<rect x="871.08" y="176.7" width="3.7" height="6.6" fill="#54fcfc"/>
<line x1="877.75" y1="185.8" x2="877.75" y2="220.5" stroke="#48dce0" stroke-width="1.15"/>
<rect x="875.90" y="190.8" width="3.7" height="29.2" fill="#54fcfc"/>
<line x1="882.58" y1="209.2" x2="882.58" y2="217.5" stroke="#d63d35" stroke-width="1.15"/>
<line x1="882.58" y1="220.0" x2="882.58" y2="221.7" stroke="#d63d35" stroke-width="1.15"/>
<rect x="881.08" y="218.0" width="3.0" height="1.5" rx="0.9" fill="#5a1917" stroke="#e2423a" stroke-width="0.95"/>
<line x1="887.41" y1="211.7" x2="887.41" y2="222.5" stroke="#d63d35" stroke-width="1.15"/>
<line x1="887.41" y1="228.3" x2="887.41" y2="230.8" stroke="#d63d35" stroke-width="1.15"/>
<rect x="885.91" y="223.0" width="3.0" height="4.8" rx="0.9" fill="#5a1917" stroke="#e2423a" stroke-width="0.95"/>
<line x1="892.23" y1="214.0" x2="892.23" y2="243.3" stroke="#48dce0" stroke-width="1.15"/>
<rect x="890.38" y="215.8" width="3.7" height="13.4" fill="#54fcfc"/>
<line x1="897.06" y1="220.0" x2="897.06" y2="239.0" stroke="#48dce0" stroke-width="1.15"/>
<rect x="895.21" y="221.7" width="3.7" height="16.6" fill="#54fcfc"/>
<line x1="901.88" y1="235.0" x2="901.88" y2="236.7" stroke="#d63d35" stroke-width="1.15"/>
<line x1="901.88" y1="238.3" x2="901.88" y2="248.3" stroke="#d63d35" stroke-width="1.15"/>
<rect x="900.38" y="237.2" width="3.0" height="0.6" rx="0.9" fill="#5a1917" stroke="#e2423a" stroke-width="0.95"/>
<line x1="906.71" y1="235.8" x2="906.71" y2="248.0" stroke="#48dce0" stroke-width="1.15"/>
<rect x="904.86" y="240.0" width="3.7" height="7.5" fill="#54fcfc"/>
<line x1="911.54" y1="250.8" x2="911.54" y2="279.2" stroke="#48dce0" stroke-width="1.15"/>
<rect x="909.69" y="255.0" width="3.7" height="15.0" fill="#54fcfc"/>
<line x1="916.36" y1="258.3" x2="916.36" y2="278.0" stroke="#48dce0" stroke-width="1.15"/>
<rect x="914.51" y="266.7" width="3.7" height="10.8" fill="#54fcfc"/>
<line x1="921.19" y1="269.2" x2="921.19" y2="288.3" stroke="#48dce0" stroke-width="1.15"/>
<rect x="919.34" y="275.8" width="3.7" height="1.7" fill="#54fcfc"/>
<line x1="926.02" y1="250.8" x2="926.02" y2="253.3" stroke="#d63d35" stroke-width="1.15"/>
<line x1="926.02" y1="276.7" x2="926.02" y2="286.7" stroke="#d63d35" stroke-width="1.15"/>
<rect x="924.52" y="253.8" width="3.0" height="22.4" rx="0.9" fill="#5a1917" stroke="#e2423a" stroke-width="0.95"/>
<line x1="930.84" y1="252.0" x2="930.84" y2="253.3" stroke="#d63d35" stroke-width="1.15"/>
<line x1="930.84" y1="262.5" x2="930.84" y2="263.0" stroke="#d63d35" stroke-width="1.15"/>
<rect x="929.34" y="253.8" width="3.0" height="8.2" rx="0.9" fill="#5a1917" stroke="#e2423a" stroke-width="0.95"/>
<line x1="935.67" y1="233.3" x2="935.67" y2="250.5" stroke="#48dce0" stroke-width="1.15"/>
<rect x="933.82" y="238.3" width="3.7" height="11.7" fill="#54fcfc"/>
<line x1="940.50" y1="228.5" x2="940.50" y2="229.2" stroke="#d63d35" stroke-width="1.15"/>
<line x1="940.50" y1="252.5" x2="940.50" y2="253.0" stroke="#d63d35" stroke-width="1.15"/>
<rect x="939.00" y="229.7" width="3.0" height="22.3" rx="0.9" fill="#5a1917" stroke="#e2423a" stroke-width="0.95"/>
<line x1="945.32" y1="219.2" x2="945.32" y2="253.0" stroke="#48dce0" stroke-width="1.15"/>
<rect x="943.47" y="225.8" width="3.7" height="26.7" fill="#54fcfc"/>
<line x1="950.15" y1="242.5" x2="950.15" y2="261.7" stroke="#48dce0" stroke-width="1.15"/>
<rect x="948.30" y="253.3" width="3.7" height="3.4" fill="#54fcfc"/>
<line x1="954.98" y1="247.5" x2="954.98" y2="269.2" stroke="#48dce0" stroke-width="1.15"/>
<rect x="953.13" y="255.8" width="3.7" height="5.0" fill="#54fcfc"/>
<line x1="959.81" y1="248.3" x2="959.81" y2="265.8" stroke="#48dce0" stroke-width="1.15"/>
<rect x="957.96" y="253.3" width="3.7" height="5.9" fill="#54fcfc"/>
<line x1="964.63" y1="265.0" x2="964.63" y2="272.5" stroke="#d63d35" stroke-width="1.15"/>
<line x1="964.63" y1="275.0" x2="964.63" y2="276.0" stroke="#d63d35" stroke-width="1.15"/>
<rect x="963.13" y="273.0" width="3.0" height="1.5" rx="0.9" fill="#5a1917" stroke="#e2423a" stroke-width="0.95"/>
<line x1="969.46" y1="271.7" x2="969.46" y2="286.7" stroke="#48dce0" stroke-width="1.15"/>
<rect x="967.61" y="272.5" width="3.7" height="5.0" fill="#54fcfc"/>
<line x1="974.29" y1="271.7" x2="974.29" y2="291.7" stroke="#48dce0" stroke-width="1.15"/>
<rect x="972.44" y="276.7" width="3.7" height="11.6" fill="#54fcfc"/>
<line x1="979.11" y1="272.5" x2="979.11" y2="274.2" stroke="#d63d35" stroke-width="1.15"/>
<line x1="979.11" y1="289.2" x2="979.11" y2="290.0" stroke="#d63d35" stroke-width="1.15"/>
<rect x="977.61" y="274.7" width="3.0" height="14.0" rx="0.9" fill="#5a1917" stroke="#e2423a" stroke-width="0.95"/>
<line x1="983.94" y1="279.2" x2="983.94" y2="294.2" stroke="#48dce0" stroke-width="1.15"/>
<rect x="982.09" y="281.7" width="3.7" height="10.0" fill="#54fcfc"/>
<line x1="988.77" y1="266.7" x2="988.77" y2="272.5" stroke="#d63d35" stroke-width="1.15"/>
<line x1="988.77" y1="297.5" x2="988.77" y2="298.0" stroke="#d63d35" stroke-width="1.15"/>
<rect x="987.27" y="273.0" width="3.0" height="24.0" rx="0.9" fill="#5a1917" stroke="#e2423a" stroke-width="0.95"/>
<line x1="993.59" y1="260.8" x2="993.59" y2="289.0" stroke="#48dce0" stroke-width="1.15"/>
<rect x="991.74" y="265.0" width="3.7" height="23.3" fill="#54fcfc"/>
<line x1="998.42" y1="284.9" x2="998.42" y2="316.0" stroke="#48dce0" stroke-width="1.15"/>
<rect x="996.57" y="290.4" width="3.7" height="20.6" fill="#54fcfc"/>
</g>
<polyline points="130.0,389.2 133.0,388.6 138.3,388.0 141.0,388.5 145.0,389.2 195.0,389.2 213.3,385.8 236.7,379.2 256.7,374.2 270.0,371.7 286.7,369.2 300.0,365.8 340.0,354.0 390.0,342.5 440.0,334.0 490.0,325.0 540.0,315.0 590.0,306.5 640.0,297.5 690.0,287.5 720.0,281.0 740.0,279.0 770.0,275.0 800.0,271.5 830.0,267.5 850.0,265.3 866.7,261.7 883.3,258.3 900.0,256.3 916.7,255.0 933.3,254.2 950.0,253.3 963.3,252.2 998.3,252.2" fill="none" stroke="#b4b4b4" stroke-width="1.3" stroke-linejoin="round" stroke-linecap="round" />
<polyline points="5.5,378.8 37.5,378.8 50.0,380.5 62.5,384.4 75.0,390.0 87.5,394.4 97.5,396.9 106.2,401.2 118.8,406.2 130.0,408.0 136.7,409.2 150.0,409.5 160.0,410.0 170.0,409.2 175.0,408.0 193.3,404.2 203.3,397.5 213.3,387.5 220.0,380.0 240.0,355.0 250.0,348.3 258.3,340.0 275.0,324.7 286.7,316.3 300.0,303.0 316.7,288.0 325.0,282.0 330.0,277.2 348.3,261.7 356.7,251.7 378.3,230.0 395.0,215.0 411.7,200.0 428.3,185.8 440.0,177.0 448.3,171.7 461.7,165.0 471.7,157.5 480.0,153.3 488.3,150.8 495.0,151.7 505.0,154.2 515.0,157.5 525.0,160.5 540.0,162.5 556.7,163.3 576.7,165.0 590.0,168.3 603.3,171.7 615.0,173.3 625.0,174.2 638.3,177.5 648.3,180.0 660.0,181.7 671.7,183.7 685.0,184.5 701.7,183.7 718.3,184.7 740.0,185.8 751.7,185.0 768.3,189.2 785.0,192.5 801.7,192.5 818.3,193.3 835.0,193.0 850.0,192.5 866.7,189.2 883.3,189.2 896.7,191.3 910.0,194.2 923.3,197.0 940.0,198.3 953.3,203.0 960.0,203.3 973.3,208.3 986.7,215.0 998.3,220.0" fill="none" stroke="#00a01e" stroke-width="1.3" stroke-linejoin="round" stroke-linecap="round" />
<polyline points="5.6,409.8 12.5,408.1 25.0,406.9 42.5,406.9 52.5,408.1 62.5,409.8 70.0,411.9 80.0,413.1 90.0,413.5 97.5,412.8 106.2,413.8 115.0,415.2 125.0,416.2 136.7,417.0 158.3,417.5 163.3,414.2 175.0,403.3 193.3,388.3 200.0,378.3 206.7,356.7 213.3,340.0 225.0,296.3 233.3,271.3 242.5,238.0 248.3,222.0 256.7,196.7 263.3,180.0 273.3,161.7 283.3,146.7 291.7,135.0 298.3,130.8 303.3,132.0 308.3,133.0 313.3,136.7 318.3,140.8 325.0,145.0 330.0,150.0 336.7,156.7 343.3,159.7 351.7,157.0 355.0,155.0 366.7,154.2 373.3,150.0 381.7,145.8 395.0,143.3 406.7,143.3 418.3,145.8 428.3,147.5 436.7,149.2 445.0,153.3 453.3,163.3 461.7,170.0 471.7,173.3 481.7,175.0 491.7,177.5 501.7,181.7 511.7,185.0 518.3,183.3 525.0,180.8 535.0,176.7 545.0,172.5 558.3,167.5 565.0,170.8 573.3,174.2 581.7,176.7 590.0,181.7 598.3,185.8 608.3,188.3 618.3,191.7 628.3,195.8 638.3,200.8 646.7,204.2 655.0,205.8 665.0,203.3 673.3,200.8 681.7,196.7 688.3,191.7 693.3,187.5 703.3,182.0 716.7,180.0 728.3,180.8 741.7,182.0 751.7,184.0 761.7,187.5 775.0,195.0 785.0,202.5 793.3,206.7 801.7,208.0 811.7,207.0 823.3,202.0 835.0,195.0 848.3,188.5 860.0,182.5 870.0,176.7 881.7,173.8 888.3,175.8 896.7,181.7 905.0,188.3 915.0,200.0 923.3,208.3 931.7,217.0 940.0,222.5 946.7,228.3 956.7,237.5 966.7,247.5 973.3,254.2 983.3,260.8 991.7,264.2 998.3,267.5" fill="none" stroke="#b800c8" stroke-width="1.3" stroke-linejoin="round" stroke-linecap="round" />
<polyline points="5.6,414.4 15.0,413.8 25.0,411.9 32.5,408.1 40.0,404.4 47.5,401.5 55.0,402.8 62.5,404.4 67.5,408.8 75.0,415.0 82.5,420.0 90.0,423.8 97.5,424.0 105.0,423.1 112.5,422.5 118.8,419.4 125.0,415.0 130.0,411.5 140.0,409.2 160.0,410.0 170.0,401.7 183.3,385.0 193.3,368.3 198.3,353.3 200.8,340.0 207.5,304.7 213.3,276.3 219.2,238.0 220.8,222.0 226.7,186.7 233.3,153.3 237.5,127.0 241.7,106.7 246.7,98.3 251.7,96.7 260.8,101.7 266.7,111.7 270.8,120.0 276.7,136.7 283.3,153.3 288.3,163.3 294.2,166.7 301.7,164.7 308.3,165.0 315.0,165.8 321.7,160.0 326.7,153.3 331.7,149.7 340.0,150.0 348.3,149.0 355.0,145.5 360.8,140.8 366.7,143.3 375.0,142.5 385.0,140.8 395.0,137.5 400.0,141.7 407.5,145.0 415.0,145.8 420.0,148.3 426.7,154.2 435.0,156.0 441.7,164.0 450.0,176.7 458.3,190.8 463.3,195.8 471.7,195.8 481.7,194.2 491.7,189.2 501.7,182.5 509.2,176.7 516.7,169.5 525.0,167.0 531.7,165.0 540.0,160.8 548.3,160.8 555.0,159.2 560.0,161.7 565.0,170.0 573.3,180.0 581.7,191.7 590.0,201.7 598.3,209.2 606.7,214.2 615.0,206.7 623.3,204.2 631.7,201.7 636.7,198.3 645.0,197.5 653.3,195.8 661.7,198.3 671.7,199.2 678.3,196.7 685.0,191.0 693.3,178.3 703.3,167.5 716.7,163.3 725.0,165.8 733.3,173.3 741.7,186.0 751.7,201.7 760.0,210.0 768.3,217.5 778.3,222.5 786.7,223.7 793.3,220.8 801.7,213.3 810.0,203.3 818.3,190.8 826.7,178.3 833.3,165.8 840.0,162.5 851.7,165.5 865.0,166.7 871.7,166.7 876.7,175.8 888.3,188.3 898.3,201.7 906.7,215.0 913.3,230.0 920.0,242.5 928.3,250.0 936.7,253.3 945.0,255.0 953.3,258.0 961.7,258.0 968.3,256.7 976.7,262.5 983.3,265.8 990.0,273.3 998.3,279.2" fill="none" stroke="#c8a800" stroke-width="1.3" stroke-linejoin="round" stroke-linecap="round" />
<polyline points="5.6,420.6 12.5,412.5 18.8,404.4 25.0,399.4 31.2,398.5 37.5,398.1 43.8,401.2 50.0,405.6 56.2,407.5 62.5,409.4 67.5,415.0 72.5,422.5 77.5,428.1 82.5,431.9 87.5,433.8 92.5,433.1 97.5,427.5 102.5,420.0 107.5,413.8 112.5,410.0 116.2,408.8 121.2,409.0 128.3,409.2 135.0,409.8 145.0,411.7 158.3,410.8 163.3,403.3 168.3,388.3 178.3,365.0 186.7,353.3 193.3,346.7 196.7,340.0 199.2,321.3 203.3,288.0 205.8,254.7 208.3,238.0 210.8,222.0 215.8,161.7 219.2,127.0 222.5,100.0 226.7,83.3 231.7,75.0 236.7,63.3 241.7,73.3 246.7,91.7 251.7,113.3 255.8,124.0 260.0,136.7 265.8,149.2 270.8,146.7 276.7,156.7 283.3,171.7 290.0,180.8 294.2,188.3 299.2,179.2 304.2,166.7 309.2,154.2 313.3,150.8 318.3,140.0 323.3,136.7 328.3,136.3 333.3,140.8 338.3,150.8 343.3,159.2 347.5,162.5 351.7,153.5 355.0,147.0 360.0,137.5 370.8,124.2 375.8,131.7 380.8,140.0 385.8,147.5 391.7,151.7 398.3,152.5 405.0,151.7 409.2,145.8 415.0,140.0 420.0,143.3 425.0,153.3 431.7,163.3 438.3,178.3 445.0,193.3 451.7,201.7 458.3,207.5 462.5,208.3 468.3,200.0 475.0,190.0 483.3,178.3 488.3,175.8 495.0,176.3 503.3,178.3 509.2,175.0 515.0,166.5 521.7,159.0 535.0,150.0 541.7,158.3 548.3,163.3 558.3,167.5 565.0,178.3 573.3,195.0 581.7,210.0 588.3,218.3 596.7,220.0 603.3,220.3 608.3,211.7 613.3,196.7 620.0,189.2 625.0,188.3 631.7,192.5 636.7,200.8 641.7,205.8 650.8,205.0 656.7,198.3 665.0,191.7 675.0,191.7 685.0,185.5 690.0,173.0 695.0,158.0 700.8,147.5 707.5,144.7 713.3,150.0 718.3,163.3 723.3,178.3 727.5,190.8 735.0,206.7 741.7,213.3 751.7,211.7 756.7,208.3 763.3,215.0 771.7,225.0 780.8,236.7 790.0,230.8 795.0,216.7 801.7,193.3 808.3,176.7 813.3,165.0 818.3,163.0 823.3,167.5 828.3,161.7 833.3,158.3 838.3,161.7 843.3,164.2 848.3,162.5 852.5,170.8 857.5,174.2 865.0,169.2 871.7,170.8 876.7,178.3 883.3,193.3 890.0,211.7 895.0,224.0 903.3,230.8 910.0,243.3 916.7,256.7 923.3,265.0 930.0,266.7 935.0,262.5 940.0,254.2 945.0,248.3 950.0,249.2 956.7,250.8 963.3,259.2 968.3,266.7 973.3,272.5 978.3,275.0 983.3,280.8 988.3,280.8 993.3,283.3 998.3,286.7" fill="none" stroke="#e8e8e8" stroke-width="1.15" stroke-linejoin="round" stroke-linecap="round" />
<ellipse cx="205.5" cy="238" rx="89.5" ry="200.8" fill="none" stroke="#ee1420" stroke-width="1.8"/>
<g stroke="#d2d2d2" stroke-width="1.2" fill="none" stroke-linecap="round"><path d="M234.2 35.8 L220.8 31.3 M225.5 30 L220.8 31.3 L223.5 34.8"/><path d="M85 439.8 L71.3 440 M75.7 436.8 L71.3 440 L75.7 443.4"/></g>
<text x="238.7" y="43.2" font-size="14.8" fill="#d2d2d2" textLength="49.6" lengthAdjust="spacingAndGlyphs">1962.52</text>
<text x="88.2" y="445.3" font-size="14.8" fill="#d2d2d2" textLength="49.4" lengthAdjust="spacingAndGlyphs">1254.68</text>
<text x="6.5" y="20.6" font-size="13.6" fill="#d6d6d6" textLength="108" lengthAdjust="spacingAndGlyphs">证券(日线.前复权)</text>
<circle cx="127.1" cy="16.2" r="6.8" fill="#6e6e70"/><path d="M123.8 15.0 L127.1 18.4 L130.4 15.0" fill="none" stroke="#1a1a1c" stroke-width="1.4" stroke-linecap="round" stroke-linejoin="round"/>
<g font-size="13.6">
<text x="139.5" y="20.2" fill="#d6d6d6" textLength="87.5" lengthAdjust="spacingAndGlyphs">MA5: 1518.62</text>
<text x="234.5" y="20.2" fill="#cdb000" textLength="96" lengthAdjust="spacingAndGlyphs">MA10: 1531.96</text>
<text x="338" y="20.2" fill="#c000cc" textLength="95.5" lengthAdjust="spacingAndGlyphs">MA20: 1551.74</text>
<text x="440.3" y="20.2" fill="#00a420" textLength="95.7" lengthAdjust="spacingAndGlyphs">MA60: 1634.39</text>
<text x="544" y="20.2" fill="#c4c4c4" textLength="102.5" lengthAdjust="spacingAndGlyphs">MA240: 1580.23</text>
</g>
<path d="M986.8 10.5 L992.8 16.5 L986.8 22.5 L980.8 16.5 Z" fill="none" stroke="#6c6c6c" stroke-width="1.1"/>
<rect x="1000.6" y="9.8" width="14.8" height="14.6" rx="1" fill="none" stroke="#828282" stroke-width="1.2"/>
<rect x="1009.8" y="11.8" width="3.6" height="10.8" fill="#aaaaaa"/>
<circle cx="12" cy="470.6" r="6.8" fill="#6e6e70"/><path d="M8.7 469.40000000000003 L12 472.8 L15.3 469.40000000000003" fill="none" stroke="#1a1a1c" stroke-width="1.4" stroke-linecap="round" stroke-linejoin="round"/>
<g font-size="13.4">
<text x="24.4" y="475.3" fill="#d6d6d6" textLength="93.8" lengthAdjust="spacingAndGlyphs">VOL-TDX(5,10)</text>
<text x="125.7" y="475.3" fill="#d6d6d6" textLength="126" lengthAdjust="spacingAndGlyphs">VVOL: 25012256.00</text>
<text x="264" y="475.3" fill="#cdb000" textLength="146.7" lengthAdjust="spacingAndGlyphs">VOLUME: 25012256.00</text>
<text x="418.3" y="475.3" fill="#cdb000" textLength="119" lengthAdjust="spacingAndGlyphs">MA5: 22487202.00</text>
<text x="544.3" y="475.3" fill="#c000cc" textLength="128" lengthAdjust="spacingAndGlyphs">MA10: 21272892.00</text>
</g>
</svg>
</body></html>
